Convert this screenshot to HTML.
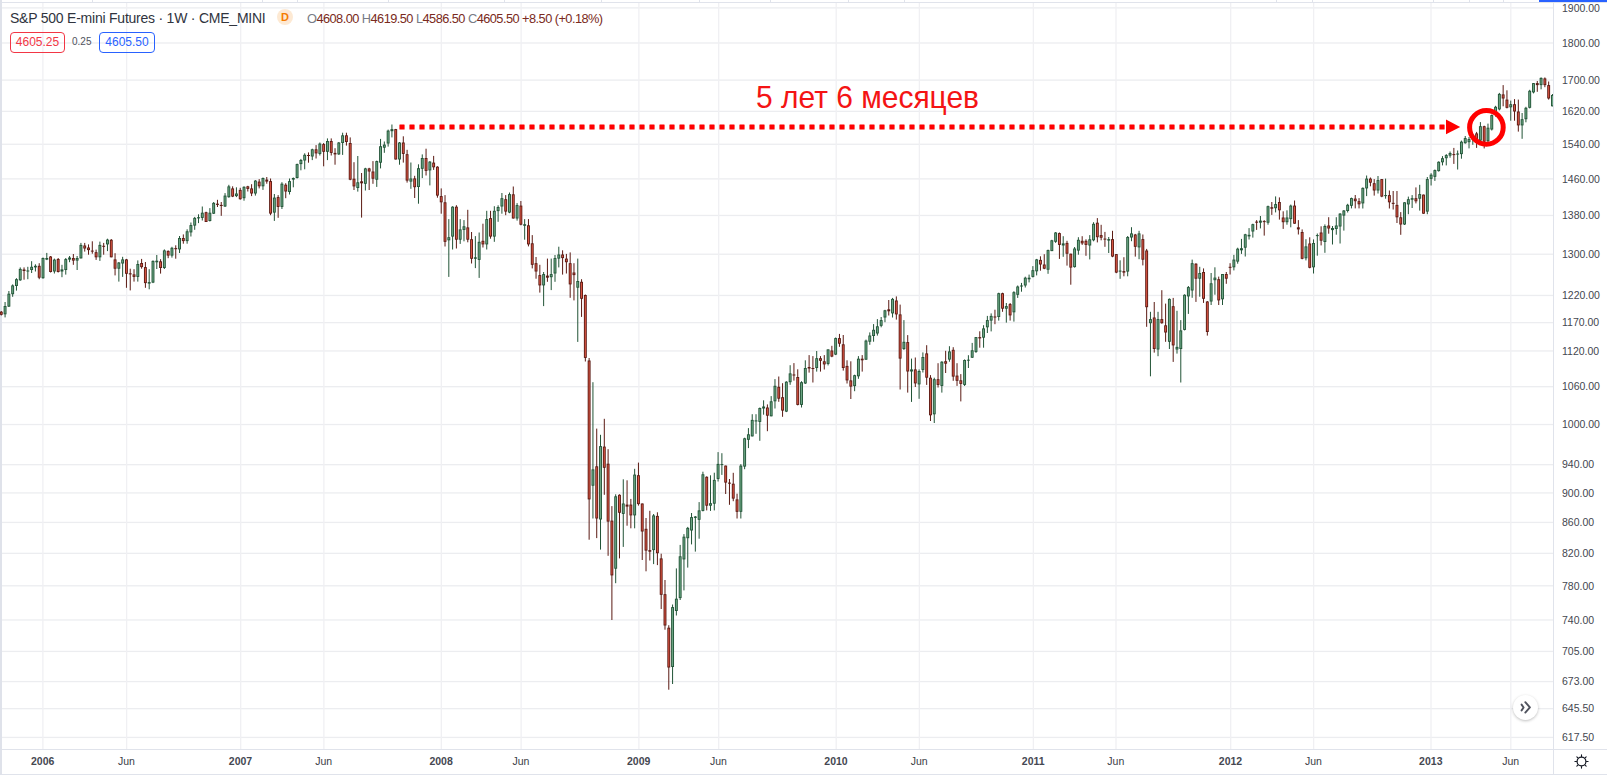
<!DOCTYPE html>
<html><head><meta charset="utf-8">
<style>
html,body{margin:0;padding:0;background:#fff;}
body{width:1607px;height:775px;position:relative;overflow:hidden;font-family:"Liberation Sans",sans-serif;}
.pl{position:absolute;left:1562px;width:40px;height:14px;line-height:14px;font-size:10.5px;color:#44474f;white-space:nowrap;}
.tl{position:absolute;top:754px;width:60px;height:14px;line-height:14px;text-align:center;font-size:10.5px;color:#3a3d45;}
.tl.yr{font-weight:bold;color:#454852;}
.legend{position:absolute;left:10px;top:10px;height:16px;line-height:16px;font-size:14px;letter-spacing:-0.23px;color:#30343e;white-space:nowrap;}
.ohlc{position:absolute;left:307px;top:10px;height:17px;line-height:17px;font-size:12.8px;letter-spacing:-0.55px;color:#7a2a20;white-space:nowrap;}
.ohlc b{font-weight:normal;color:#787b86;}
.box{position:absolute;top:32px;height:19px;line-height:19px;border-radius:4px;font-size:12px;text-align:center;box-sizing:content-box;}
</style></head><body>
<div style="position:absolute;left:0;top:0;width:2px;height:775px;background:#dfe2ea"></div>
<div style="position:absolute;left:2px;top:2px;width:1605px;height:1px;background:#e0e3eb"></div>
<div style="position:absolute;left:92px;top:0;width:1px;height:2px;background:#e0e3eb"></div><div style="position:absolute;left:262px;top:0;width:1px;height:2px;background:#e0e3eb"></div><div style="position:absolute;left:297px;top:0;width:1px;height:2px;background:#e0e3eb"></div><div style="position:absolute;left:388px;top:0;width:1px;height:2px;background:#e0e3eb"></div><div style="position:absolute;left:504px;top:0;width:1px;height:2px;background:#e0e3eb"></div><div style="position:absolute;left:601px;top:0;width:1px;height:2px;background:#e0e3eb"></div><div style="position:absolute;left:699px;top:0;width:1px;height:2px;background:#e0e3eb"></div><div style="position:absolute;left:770px;top:0;width:1px;height:2px;background:#e0e3eb"></div><div style="position:absolute;left:848px;top:0;width:1px;height:2px;background:#e0e3eb"></div><div style="position:absolute;left:904px;top:0;width:1px;height:2px;background:#e0e3eb"></div><div style="position:absolute;left:1276px;top:0;width:1px;height:2px;background:#e0e3eb"></div><div style="position:absolute;left:1312px;top:0;width:1px;height:2px;background:#e0e3eb"></div><div style="position:absolute;left:1433px;top:0;width:1px;height:2px;background:#e0e3eb"></div><div style="position:absolute;left:1469px;top:0;width:1px;height:2px;background:#e0e3eb"></div><div style="position:absolute;left:1503px;top:0;width:1px;height:2px;background:#e0e3eb"></div>
<div style="position:absolute;left:1539px;top:0;width:68px;height:2px;background:#2962ff"></div>
<div style="position:absolute;left:1553px;top:3px;width:1px;height:772px;background:#e0e3eb"></div>
<div style="position:absolute;left:2px;top:749px;width:1605px;height:1px;background:#e0e3eb"></div>
<div style="position:absolute;left:2px;top:774px;width:1605px;height:1px;background:#e0e3eb"></div>
<svg style="position:absolute;left:0;top:0" width="1553" height="749" viewBox="0 0 1553 749">
<rect x="2" y="7.25" width="1551" height="1.3" fill="#ecedf0"/><rect x="2" y="42.34" width="1551" height="1.3" fill="#ecedf0"/><rect x="2" y="79.45" width="1551" height="1.3" fill="#ecedf0"/><rect x="2" y="110.73" width="1551" height="1.3" fill="#ecedf0"/><rect x="2" y="143.61" width="1551" height="1.3" fill="#ecedf0"/><rect x="2" y="178.23" width="1551" height="1.3" fill="#ecedf0"/><rect x="2" y="214.81" width="1551" height="1.3" fill="#ecedf0"/><rect x="2" y="253.58" width="1551" height="1.3" fill="#ecedf0"/><rect x="2" y="294.80" width="1551" height="1.3" fill="#ecedf0"/><rect x="2" y="321.96" width="1551" height="1.3" fill="#ecedf0"/><rect x="2" y="350.31" width="1551" height="1.3" fill="#ecedf0"/><rect x="2" y="386.05" width="1551" height="1.3" fill="#ecedf0"/><rect x="2" y="423.88" width="1551" height="1.3" fill="#ecedf0"/><rect x="2" y="464.04" width="1551" height="1.3" fill="#ecedf0"/><rect x="2" y="492.27" width="1551" height="1.3" fill="#ecedf0"/><rect x="2" y="521.78" width="1551" height="1.3" fill="#ecedf0"/><rect x="2" y="552.69" width="1551" height="1.3" fill="#ecedf0"/><rect x="2" y="585.15" width="1551" height="1.3" fill="#ecedf0"/><rect x="2" y="619.32" width="1551" height="1.3" fill="#ecedf0"/><rect x="2" y="650.77" width="1551" height="1.3" fill="#ecedf0"/><rect x="2" y="680.93" width="1551" height="1.3" fill="#ecedf0"/><rect x="2" y="708.01" width="1551" height="1.3" fill="#ecedf0"/><rect x="2" y="736.79" width="1551" height="1.3" fill="#ecedf0"/><rect x="42.25" y="3" width="1.3" height="746" fill="#f0f0f3"/><rect x="125.95" y="3" width="1.3" height="746" fill="#f0f0f3"/><rect x="240.05" y="3" width="1.3" height="746" fill="#f0f0f3"/><rect x="323.25" y="3" width="1.3" height="746" fill="#f0f0f3"/><rect x="440.65" y="3" width="1.3" height="746" fill="#f0f0f3"/><rect x="520.45" y="3" width="1.3" height="746" fill="#f0f0f3"/><rect x="638.25" y="3" width="1.3" height="746" fill="#f0f0f3"/><rect x="718.05" y="3" width="1.3" height="746" fill="#f0f0f3"/><rect x="835.55" y="3" width="1.3" height="746" fill="#f0f0f3"/><rect x="918.75" y="3" width="1.3" height="746" fill="#f0f0f3"/><rect x="1032.75" y="3" width="1.3" height="746" fill="#f0f0f3"/><rect x="1115.35" y="3" width="1.3" height="746" fill="#f0f0f3"/><rect x="1230.05" y="3" width="1.3" height="746" fill="#f0f0f3"/><rect x="1312.95" y="3" width="1.3" height="746" fill="#f0f0f3"/><rect x="1430.35" y="3" width="1.3" height="746" fill="#f0f0f3"/><rect x="1510.15" y="3" width="1.3" height="746" fill="#f0f0f3"/>
<rect x="0.78" y="311.00" width="1" height="4.50" fill="#5b1a13"/><rect x="-0.17" y="311.70" width="2.9" height="3.10" fill="#5b1a13"/><rect x="0.73" y="312.60" width="1.1" height="1.30" fill="#d75442"/><rect x="4.57" y="302.00" width="1" height="15.40" fill="#225437"/><rect x="3.62" y="306.00" width="2.9" height="8.30" fill="#225437"/><rect x="4.52" y="306.90" width="1.1" height="6.50" fill="#6ba583"/><rect x="8.37" y="291.00" width="1" height="16.00" fill="#225437"/><rect x="7.42" y="293.70" width="2.9" height="12.90" fill="#225437"/><rect x="8.32" y="294.60" width="1.1" height="11.10" fill="#6ba583"/><rect x="12.16" y="284.40" width="1" height="12.40" fill="#225437"/><rect x="11.21" y="285.40" width="2.9" height="8.80" fill="#225437"/><rect x="12.11" y="286.30" width="1.1" height="7.00" fill="#6ba583"/><rect x="15.95" y="278.20" width="1" height="12.40" fill="#225437"/><rect x="15.00" y="279.20" width="2.9" height="6.80" fill="#225437"/><rect x="15.90" y="280.10" width="1.1" height="5.00" fill="#6ba583"/><rect x="19.74" y="267.40" width="1" height="13.40" fill="#225437"/><rect x="18.79" y="268.90" width="2.9" height="11.40" fill="#225437"/><rect x="19.69" y="269.80" width="1.1" height="9.60" fill="#6ba583"/><rect x="23.54" y="267.40" width="1" height="12.30" fill="#5b1a13"/><rect x="22.59" y="269.50" width="2.9" height="1.50" fill="#5b1a13"/><rect x="27.33" y="266.80" width="1" height="12.40" fill="#225437"/><rect x="26.38" y="270.50" width="2.9" height="1.00" fill="#225437"/><rect x="31.12" y="261.20" width="1" height="11.80" fill="#225437"/><rect x="30.17" y="266.80" width="2.9" height="3.20" fill="#225437"/><rect x="31.07" y="267.70" width="1.1" height="1.40" fill="#6ba583"/><rect x="34.91" y="264.30" width="1" height="7.20" fill="#225437"/><rect x="33.96" y="265.80" width="2.9" height="1.60" fill="#225437"/><rect x="38.71" y="263.20" width="1" height="16.00" fill="#5b1a13"/><rect x="37.76" y="265.80" width="2.9" height="11.90" fill="#5b1a13"/><rect x="38.66" y="266.70" width="1.1" height="10.10" fill="#d75442"/><rect x="42.50" y="257.50" width="1" height="21.20" fill="#225437"/><rect x="41.55" y="258.00" width="2.9" height="20.20" fill="#225437"/><rect x="42.45" y="258.90" width="1.1" height="18.40" fill="#6ba583"/><rect x="46.29" y="252.90" width="1" height="7.20" fill="#225437"/><rect x="45.34" y="258.00" width="2.9" height="1.60" fill="#225437"/><rect x="50.09" y="256.00" width="1" height="16.50" fill="#5b1a13"/><rect x="49.14" y="256.50" width="2.9" height="15.50" fill="#5b1a13"/><rect x="50.04" y="257.40" width="1.1" height="13.70" fill="#d75442"/><rect x="53.88" y="258.60" width="1" height="14.90" fill="#225437"/><rect x="52.93" y="259.60" width="2.9" height="11.90" fill="#225437"/><rect x="53.83" y="260.50" width="1.1" height="10.10" fill="#6ba583"/><rect x="57.67" y="258.00" width="1" height="14.50" fill="#5b1a13"/><rect x="56.72" y="259.00" width="2.9" height="13.00" fill="#5b1a13"/><rect x="57.62" y="259.90" width="1.1" height="11.20" fill="#d75442"/><rect x="61.46" y="264.80" width="1" height="12.40" fill="#225437"/><rect x="60.51" y="269.40" width="2.9" height="2.10" fill="#225437"/><rect x="65.26" y="258.00" width="1" height="16.60" fill="#225437"/><rect x="64.31" y="259.10" width="2.9" height="10.90" fill="#225437"/><rect x="65.21" y="260.00" width="1.1" height="9.10" fill="#6ba583"/><rect x="69.05" y="256.00" width="1" height="6.20" fill="#225437"/><rect x="68.10" y="257.50" width="2.9" height="2.10" fill="#225437"/><rect x="72.84" y="254.00" width="1" height="10.80" fill="#5b1a13"/><rect x="71.89" y="258.00" width="2.9" height="2.60" fill="#5b1a13"/><rect x="72.79" y="258.90" width="1.1" height="0.80" fill="#d75442"/><rect x="76.63" y="256.00" width="1" height="14.00" fill="#225437"/><rect x="75.68" y="258.00" width="2.9" height="2.60" fill="#225437"/><rect x="76.58" y="258.90" width="1.1" height="0.80" fill="#6ba583"/><rect x="80.43" y="242.90" width="1" height="15.50" fill="#225437"/><rect x="79.48" y="244.90" width="2.9" height="13.50" fill="#225437"/><rect x="80.38" y="245.80" width="1.1" height="11.70" fill="#6ba583"/><rect x="84.22" y="242.90" width="1" height="8.70" fill="#5b1a13"/><rect x="83.27" y="245.50" width="2.9" height="3.00" fill="#5b1a13"/><rect x="84.17" y="246.40" width="1.1" height="1.20" fill="#d75442"/><rect x="88.01" y="244.40" width="1" height="10.30" fill="#5b1a13"/><rect x="87.06" y="247.50" width="2.9" height="2.60" fill="#5b1a13"/><rect x="87.96" y="248.40" width="1.1" height="0.80" fill="#d75442"/><rect x="91.80" y="241.30" width="1" height="12.40" fill="#5b1a13"/><rect x="90.85" y="250.60" width="2.9" height="1.00" fill="#5b1a13"/><rect x="95.60" y="249.60" width="1" height="10.30" fill="#5b1a13"/><rect x="94.65" y="252.20" width="2.9" height="5.10" fill="#5b1a13"/><rect x="95.55" y="253.10" width="1.1" height="3.30" fill="#d75442"/><rect x="99.39" y="241.60" width="1" height="19.30" fill="#225437"/><rect x="98.44" y="244.90" width="2.9" height="12.40" fill="#225437"/><rect x="99.34" y="245.80" width="1.1" height="10.60" fill="#6ba583"/><rect x="103.18" y="242.90" width="1" height="11.80" fill="#5b1a13"/><rect x="102.23" y="245.80" width="2.9" height="1.00" fill="#5b1a13"/><rect x="106.97" y="238.70" width="1" height="12.40" fill="#225437"/><rect x="106.02" y="239.60" width="2.9" height="4.80" fill="#225437"/><rect x="106.92" y="240.50" width="1.1" height="3.00" fill="#6ba583"/><rect x="110.77" y="239.00" width="1" height="18.30" fill="#5b1a13"/><rect x="109.82" y="239.80" width="2.9" height="17.50" fill="#5b1a13"/><rect x="110.72" y="240.70" width="1.1" height="15.70" fill="#d75442"/><rect x="114.56" y="253.20" width="1" height="22.20" fill="#5b1a13"/><rect x="113.61" y="259.40" width="2.9" height="9.30" fill="#5b1a13"/><rect x="114.51" y="260.30" width="1.1" height="7.50" fill="#d75442"/><rect x="118.35" y="262.00" width="1" height="19.60" fill="#225437"/><rect x="117.40" y="262.50" width="2.9" height="6.20" fill="#225437"/><rect x="118.30" y="263.40" width="1.1" height="4.40" fill="#6ba583"/><rect x="122.14" y="256.80" width="1" height="20.10" fill="#225437"/><rect x="121.19" y="259.40" width="2.9" height="4.10" fill="#225437"/><rect x="122.09" y="260.30" width="1.1" height="2.30" fill="#6ba583"/><rect x="125.94" y="258.90" width="1" height="28.90" fill="#5b1a13"/><rect x="124.99" y="259.40" width="2.9" height="14.40" fill="#5b1a13"/><rect x="125.89" y="260.30" width="1.1" height="12.60" fill="#d75442"/><rect x="129.73" y="268.70" width="1" height="21.70" fill="#5b1a13"/><rect x="128.78" y="273.30" width="2.9" height="1.10" fill="#5b1a13"/><rect x="133.52" y="269.20" width="1" height="12.40" fill="#5b1a13"/><rect x="132.57" y="274.40" width="2.9" height="2.50" fill="#5b1a13"/><rect x="133.47" y="275.30" width="1.1" height="0.70" fill="#d75442"/><rect x="137.31" y="260.40" width="1" height="21.20" fill="#225437"/><rect x="136.37" y="264.00" width="2.9" height="12.90" fill="#225437"/><rect x="137.26" y="264.90" width="1.1" height="11.10" fill="#6ba583"/><rect x="141.11" y="258.90" width="1" height="9.80" fill="#5b1a13"/><rect x="140.16" y="263.00" width="2.9" height="4.10" fill="#5b1a13"/><rect x="141.06" y="263.90" width="1.1" height="2.30" fill="#d75442"/><rect x="144.90" y="262.00" width="1" height="25.80" fill="#5b1a13"/><rect x="143.95" y="267.10" width="2.9" height="16.00" fill="#5b1a13"/><rect x="144.85" y="268.00" width="1.1" height="14.20" fill="#d75442"/><rect x="148.69" y="269.20" width="1" height="20.10" fill="#225437"/><rect x="147.74" y="282.10" width="2.9" height="1.50" fill="#225437"/><rect x="152.49" y="260.40" width="1" height="22.70" fill="#225437"/><rect x="151.54" y="260.90" width="2.9" height="21.70" fill="#225437"/><rect x="152.44" y="261.80" width="1.1" height="19.90" fill="#6ba583"/><rect x="156.28" y="255.00" width="1" height="14.00" fill="#225437"/><rect x="155.33" y="260.70" width="2.9" height="1.60" fill="#225437"/><rect x="160.07" y="259.20" width="1" height="14.40" fill="#5b1a13"/><rect x="159.12" y="261.30" width="2.9" height="6.70" fill="#5b1a13"/><rect x="160.02" y="262.20" width="1.1" height="4.90" fill="#d75442"/><rect x="163.86" y="249.40" width="1" height="19.60" fill="#225437"/><rect x="162.91" y="250.40" width="2.9" height="17.60" fill="#225437"/><rect x="163.81" y="251.30" width="1.1" height="15.80" fill="#6ba583"/><rect x="167.66" y="250.40" width="1" height="7.80" fill="#5b1a13"/><rect x="166.71" y="250.90" width="2.9" height="4.70" fill="#5b1a13"/><rect x="167.61" y="251.80" width="1.1" height="2.90" fill="#d75442"/><rect x="171.45" y="246.80" width="1" height="10.80" fill="#225437"/><rect x="170.50" y="247.80" width="2.9" height="7.80" fill="#225437"/><rect x="171.40" y="248.70" width="1.1" height="6.00" fill="#6ba583"/><rect x="175.24" y="245.30" width="1" height="13.40" fill="#5b1a13"/><rect x="174.29" y="248.10" width="2.9" height="1.10" fill="#5b1a13"/><rect x="179.03" y="236.00" width="1" height="17.00" fill="#225437"/><rect x="178.08" y="238.00" width="2.9" height="11.40" fill="#225437"/><rect x="178.98" y="238.90" width="1.1" height="9.60" fill="#6ba583"/><rect x="182.83" y="234.40" width="1" height="9.30" fill="#5b1a13"/><rect x="181.88" y="238.00" width="2.9" height="3.10" fill="#5b1a13"/><rect x="182.78" y="238.90" width="1.1" height="1.30" fill="#d75442"/><rect x="186.62" y="229.30" width="1" height="14.40" fill="#225437"/><rect x="185.67" y="231.30" width="2.9" height="9.80" fill="#225437"/><rect x="186.57" y="232.20" width="1.1" height="8.00" fill="#6ba583"/><rect x="190.41" y="222.50" width="1" height="14.00" fill="#225437"/><rect x="189.46" y="225.10" width="2.9" height="7.30" fill="#225437"/><rect x="190.36" y="226.00" width="1.1" height="5.50" fill="#6ba583"/><rect x="194.20" y="216.90" width="1" height="12.90" fill="#225437"/><rect x="193.25" y="217.90" width="2.9" height="7.70" fill="#225437"/><rect x="194.15" y="218.80" width="1.1" height="5.90" fill="#6ba583"/><rect x="198.00" y="214.30" width="1" height="8.80" fill="#225437"/><rect x="197.05" y="217.20" width="2.9" height="1.20" fill="#225437"/><rect x="201.79" y="206.50" width="1" height="14.00" fill="#225437"/><rect x="200.84" y="212.70" width="2.9" height="5.20" fill="#225437"/><rect x="201.74" y="213.60" width="1.1" height="3.40" fill="#6ba583"/><rect x="205.58" y="211.70" width="1" height="10.30" fill="#5b1a13"/><rect x="204.63" y="212.20" width="2.9" height="9.80" fill="#5b1a13"/><rect x="205.53" y="213.10" width="1.1" height="8.00" fill="#d75442"/><rect x="209.37" y="208.10" width="1" height="13.40" fill="#225437"/><rect x="208.42" y="212.70" width="2.9" height="8.30" fill="#225437"/><rect x="209.32" y="213.60" width="1.1" height="6.50" fill="#6ba583"/><rect x="213.17" y="202.00" width="1" height="12.00" fill="#225437"/><rect x="212.22" y="202.90" width="2.9" height="10.80" fill="#225437"/><rect x="213.12" y="203.80" width="1.1" height="9.00" fill="#6ba583"/><rect x="216.96" y="199.80" width="1" height="7.20" fill="#5b1a13"/><rect x="216.01" y="203.70" width="2.9" height="1.20" fill="#5b1a13"/><rect x="220.75" y="202.00" width="1" height="13.80" fill="#5b1a13"/><rect x="219.80" y="204.90" width="2.9" height="1.10" fill="#5b1a13"/><rect x="224.54" y="193.10" width="1" height="13.90" fill="#225437"/><rect x="223.59" y="195.60" width="2.9" height="10.90" fill="#225437"/><rect x="224.49" y="196.50" width="1.1" height="9.10" fill="#6ba583"/><rect x="228.34" y="184.80" width="1" height="12.90" fill="#225437"/><rect x="227.39" y="186.40" width="2.9" height="10.80" fill="#225437"/><rect x="228.29" y="187.30" width="1.1" height="9.00" fill="#6ba583"/><rect x="232.13" y="186.30" width="1" height="10.80" fill="#5b1a13"/><rect x="231.18" y="188.40" width="2.9" height="8.20" fill="#5b1a13"/><rect x="232.08" y="189.30" width="1.1" height="6.40" fill="#d75442"/><rect x="235.92" y="187.30" width="1" height="9.80" fill="#225437"/><rect x="234.97" y="193.50" width="2.9" height="2.60" fill="#225437"/><rect x="235.87" y="194.40" width="1.1" height="0.80" fill="#6ba583"/><rect x="239.72" y="187.80" width="1" height="11.90" fill="#5b1a13"/><rect x="238.77" y="189.90" width="2.9" height="9.30" fill="#5b1a13"/><rect x="239.67" y="190.80" width="1.1" height="7.50" fill="#d75442"/><rect x="243.51" y="186.30" width="1" height="14.40" fill="#225437"/><rect x="242.56" y="186.80" width="2.9" height="11.40" fill="#225437"/><rect x="243.46" y="187.70" width="1.1" height="9.60" fill="#6ba583"/><rect x="247.30" y="185.80" width="1" height="5.70" fill="#5b1a13"/><rect x="246.35" y="186.30" width="2.9" height="2.60" fill="#5b1a13"/><rect x="247.25" y="187.20" width="1.1" height="0.80" fill="#d75442"/><rect x="251.09" y="184.20" width="1" height="11.90" fill="#5b1a13"/><rect x="250.14" y="188.40" width="2.9" height="5.10" fill="#5b1a13"/><rect x="251.04" y="189.30" width="1.1" height="3.30" fill="#d75442"/><rect x="254.89" y="180.10" width="1" height="15.50" fill="#225437"/><rect x="253.94" y="180.60" width="2.9" height="12.90" fill="#225437"/><rect x="254.84" y="181.50" width="1.1" height="11.10" fill="#6ba583"/><rect x="258.68" y="179.10" width="1" height="9.30" fill="#5b1a13"/><rect x="257.73" y="181.60" width="2.9" height="4.70" fill="#5b1a13"/><rect x="258.63" y="182.50" width="1.1" height="2.90" fill="#d75442"/><rect x="262.47" y="177.50" width="1" height="12.40" fill="#225437"/><rect x="261.52" y="178.00" width="2.9" height="8.30" fill="#225437"/><rect x="262.42" y="178.90" width="1.1" height="6.50" fill="#6ba583"/><rect x="266.26" y="177.00" width="1" height="6.70" fill="#5b1a13"/><rect x="265.31" y="179.60" width="2.9" height="2.00" fill="#5b1a13"/><rect x="270.06" y="178.50" width="1" height="36.70" fill="#5b1a13"/><rect x="269.11" y="181.10" width="2.9" height="32.50" fill="#5b1a13"/><rect x="270.01" y="182.00" width="1.1" height="30.70" fill="#d75442"/><rect x="273.85" y="194.00" width="1" height="26.90" fill="#225437"/><rect x="272.90" y="197.60" width="2.9" height="15.00" fill="#225437"/><rect x="273.80" y="198.50" width="1.1" height="13.20" fill="#6ba583"/><rect x="277.64" y="195.10" width="1" height="22.70" fill="#5b1a13"/><rect x="276.69" y="197.10" width="2.9" height="9.80" fill="#5b1a13"/><rect x="277.59" y="198.00" width="1.1" height="8.00" fill="#d75442"/><rect x="281.43" y="182.20" width="1" height="26.80" fill="#225437"/><rect x="280.48" y="183.70" width="2.9" height="23.20" fill="#225437"/><rect x="281.38" y="184.60" width="1.1" height="21.40" fill="#6ba583"/><rect x="285.23" y="183.20" width="1" height="15.00" fill="#5b1a13"/><rect x="284.28" y="184.70" width="2.9" height="6.80" fill="#5b1a13"/><rect x="285.18" y="185.60" width="1.1" height="5.00" fill="#d75442"/><rect x="289.02" y="178.50" width="1" height="16.00" fill="#225437"/><rect x="288.07" y="181.10" width="2.9" height="10.90" fill="#225437"/><rect x="288.97" y="182.00" width="1.1" height="9.10" fill="#6ba583"/><rect x="292.81" y="177.50" width="1" height="9.80" fill="#225437"/><rect x="291.86" y="178.00" width="2.9" height="1.60" fill="#225437"/><rect x="296.60" y="163.60" width="1" height="14.90" fill="#225437"/><rect x="295.65" y="164.10" width="2.9" height="13.90" fill="#225437"/><rect x="296.55" y="165.00" width="1.1" height="12.10" fill="#6ba583"/><rect x="300.40" y="158.90" width="1" height="11.40" fill="#225437"/><rect x="299.45" y="160.00" width="2.9" height="4.10" fill="#225437"/><rect x="300.35" y="160.90" width="1.1" height="2.30" fill="#6ba583"/><rect x="304.19" y="153.30" width="1" height="16.00" fill="#225437"/><rect x="303.24" y="154.80" width="2.9" height="5.70" fill="#225437"/><rect x="304.14" y="155.70" width="1.1" height="3.90" fill="#6ba583"/><rect x="307.98" y="152.40" width="1" height="10.30" fill="#5b1a13"/><rect x="307.03" y="155.00" width="2.9" height="1.00" fill="#5b1a13"/><rect x="311.77" y="148.70" width="1" height="11.40" fill="#225437"/><rect x="310.82" y="149.30" width="2.9" height="7.20" fill="#225437"/><rect x="311.72" y="150.20" width="1.1" height="5.40" fill="#6ba583"/><rect x="315.57" y="145.10" width="1" height="13.40" fill="#5b1a13"/><rect x="314.62" y="149.30" width="2.9" height="4.10" fill="#5b1a13"/><rect x="315.52" y="150.20" width="1.1" height="2.30" fill="#d75442"/><rect x="319.36" y="142.50" width="1" height="13.00" fill="#225437"/><rect x="318.41" y="143.60" width="2.9" height="10.30" fill="#225437"/><rect x="319.31" y="144.50" width="1.1" height="8.50" fill="#6ba583"/><rect x="323.15" y="143.00" width="1" height="23.30" fill="#5b1a13"/><rect x="322.20" y="144.10" width="2.9" height="7.70" fill="#5b1a13"/><rect x="323.10" y="145.00" width="1.1" height="5.90" fill="#d75442"/><rect x="326.94" y="138.40" width="1" height="21.70" fill="#225437"/><rect x="326.00" y="141.00" width="2.9" height="10.80" fill="#225437"/><rect x="326.89" y="141.90" width="1.1" height="9.00" fill="#6ba583"/><rect x="330.74" y="138.40" width="1" height="17.10" fill="#5b1a13"/><rect x="329.79" y="141.00" width="2.9" height="11.90" fill="#5b1a13"/><rect x="330.69" y="141.90" width="1.1" height="10.10" fill="#d75442"/><rect x="334.53" y="148.20" width="1" height="16.50" fill="#5b1a13"/><rect x="333.58" y="152.90" width="2.9" height="1.50" fill="#5b1a13"/><rect x="338.32" y="142.00" width="1" height="12.90" fill="#225437"/><rect x="337.37" y="142.50" width="2.9" height="11.90" fill="#225437"/><rect x="338.27" y="143.40" width="1.1" height="10.10" fill="#6ba583"/><rect x="342.12" y="132.70" width="1" height="22.20" fill="#225437"/><rect x="341.17" y="135.30" width="2.9" height="7.70" fill="#225437"/><rect x="342.07" y="136.20" width="1.1" height="5.90" fill="#6ba583"/><rect x="345.91" y="132.70" width="1" height="12.90" fill="#5b1a13"/><rect x="344.96" y="135.30" width="2.9" height="6.70" fill="#5b1a13"/><rect x="345.86" y="136.20" width="1.1" height="4.90" fill="#d75442"/><rect x="349.70" y="137.40" width="1" height="42.80" fill="#5b1a13"/><rect x="348.75" y="143.00" width="2.9" height="36.70" fill="#5b1a13"/><rect x="349.65" y="143.90" width="1.1" height="34.90" fill="#d75442"/><rect x="353.49" y="162.20" width="1" height="27.80" fill="#5b1a13"/><rect x="352.54" y="178.70" width="2.9" height="7.70" fill="#5b1a13"/><rect x="353.44" y="179.60" width="1.1" height="5.90" fill="#d75442"/><rect x="357.29" y="156.00" width="1" height="35.60" fill="#225437"/><rect x="356.34" y="182.30" width="2.9" height="5.70" fill="#225437"/><rect x="357.24" y="183.20" width="1.1" height="3.90" fill="#6ba583"/><rect x="361.08" y="173.00" width="1" height="44.60" fill="#5b1a13"/><rect x="360.13" y="181.30" width="2.9" height="2.00" fill="#5b1a13"/><rect x="364.87" y="167.80" width="1" height="22.70" fill="#225437"/><rect x="363.92" y="168.40" width="2.9" height="15.40" fill="#225437"/><rect x="364.82" y="169.30" width="1.1" height="13.60" fill="#6ba583"/><rect x="368.66" y="167.80" width="1" height="22.20" fill="#5b1a13"/><rect x="367.71" y="168.40" width="2.9" height="3.10" fill="#5b1a13"/><rect x="368.61" y="169.30" width="1.1" height="1.30" fill="#d75442"/><rect x="372.46" y="161.10" width="1" height="22.70" fill="#5b1a13"/><rect x="371.51" y="171.50" width="2.9" height="7.20" fill="#5b1a13"/><rect x="372.41" y="172.40" width="1.1" height="5.40" fill="#d75442"/><rect x="376.25" y="160.60" width="1" height="26.30" fill="#225437"/><rect x="375.30" y="161.10" width="2.9" height="18.60" fill="#225437"/><rect x="376.20" y="162.00" width="1.1" height="16.80" fill="#6ba583"/><rect x="380.04" y="138.90" width="1" height="29.50" fill="#225437"/><rect x="379.09" y="146.20" width="2.9" height="16.50" fill="#225437"/><rect x="379.99" y="147.10" width="1.1" height="14.70" fill="#6ba583"/><rect x="383.83" y="141.50" width="1" height="11.30" fill="#225437"/><rect x="382.88" y="144.60" width="2.9" height="3.10" fill="#225437"/><rect x="383.78" y="145.50" width="1.1" height="1.30" fill="#6ba583"/><rect x="387.63" y="129.60" width="1" height="17.00" fill="#225437"/><rect x="386.68" y="130.60" width="2.9" height="12.90" fill="#225437"/><rect x="387.58" y="131.50" width="1.1" height="11.10" fill="#6ba583"/><rect x="391.42" y="124.50" width="1" height="12.90" fill="#225437"/><rect x="390.47" y="129.10" width="2.9" height="2.10" fill="#225437"/><rect x="395.21" y="128.90" width="1" height="30.60" fill="#5b1a13"/><rect x="394.26" y="129.10" width="2.9" height="30.40" fill="#5b1a13"/><rect x="395.16" y="130.00" width="1.1" height="28.60" fill="#d75442"/><rect x="399.00" y="142.00" width="1" height="22.70" fill="#225437"/><rect x="398.05" y="142.50" width="2.9" height="17.00" fill="#225437"/><rect x="398.95" y="143.40" width="1.1" height="15.20" fill="#6ba583"/><rect x="402.80" y="136.30" width="1" height="26.30" fill="#5b1a13"/><rect x="401.85" y="142.50" width="2.9" height="11.40" fill="#5b1a13"/><rect x="402.75" y="143.40" width="1.1" height="9.60" fill="#d75442"/><rect x="406.59" y="149.80" width="1" height="32.80" fill="#5b1a13"/><rect x="405.64" y="154.20" width="2.9" height="26.40" fill="#5b1a13"/><rect x="406.54" y="155.10" width="1.1" height="24.60" fill="#d75442"/><rect x="410.38" y="162.50" width="1" height="26.30" fill="#225437"/><rect x="409.43" y="178.50" width="2.9" height="3.10" fill="#225437"/><rect x="410.33" y="179.40" width="1.1" height="1.30" fill="#6ba583"/><rect x="414.17" y="175.80" width="1" height="22.20" fill="#5b1a13"/><rect x="413.22" y="178.40" width="2.9" height="8.80" fill="#5b1a13"/><rect x="414.12" y="179.30" width="1.1" height="7.00" fill="#d75442"/><rect x="417.97" y="164.30" width="1" height="39.40" fill="#225437"/><rect x="417.02" y="168.20" width="2.9" height="18.80" fill="#225437"/><rect x="417.92" y="169.10" width="1.1" height="17.00" fill="#6ba583"/><rect x="421.76" y="154.40" width="1" height="23.70" fill="#225437"/><rect x="420.81" y="158.00" width="2.9" height="10.80" fill="#225437"/><rect x="421.71" y="158.90" width="1.1" height="9.00" fill="#6ba583"/><rect x="425.55" y="148.70" width="1" height="26.80" fill="#5b1a13"/><rect x="424.60" y="158.00" width="2.9" height="12.90" fill="#5b1a13"/><rect x="425.50" y="158.90" width="1.1" height="11.10" fill="#d75442"/><rect x="429.35" y="161.10" width="1" height="24.30" fill="#225437"/><rect x="428.40" y="161.60" width="2.9" height="8.80" fill="#225437"/><rect x="429.30" y="162.50" width="1.1" height="7.00" fill="#6ba583"/><rect x="433.14" y="155.90" width="1" height="14.00" fill="#5b1a13"/><rect x="432.19" y="162.60" width="2.9" height="4.70" fill="#5b1a13"/><rect x="433.09" y="163.50" width="1.1" height="2.90" fill="#d75442"/><rect x="436.93" y="166.20" width="1" height="31.50" fill="#5b1a13"/><rect x="435.98" y="166.70" width="2.9" height="28.90" fill="#5b1a13"/><rect x="436.88" y="167.60" width="1.1" height="27.10" fill="#d75442"/><rect x="440.72" y="188.40" width="1" height="25.30" fill="#5b1a13"/><rect x="439.77" y="196.10" width="2.9" height="6.20" fill="#5b1a13"/><rect x="440.67" y="197.00" width="1.1" height="4.40" fill="#d75442"/><rect x="444.52" y="195.10" width="1" height="51.40" fill="#5b1a13"/><rect x="443.57" y="202.30" width="2.9" height="39.50" fill="#5b1a13"/><rect x="444.47" y="203.20" width="1.1" height="37.70" fill="#d75442"/><rect x="448.31" y="219.10" width="1" height="57.80" fill="#225437"/><rect x="447.36" y="237.20" width="2.9" height="3.10" fill="#225437"/><rect x="448.26" y="238.10" width="1.1" height="1.30" fill="#6ba583"/><rect x="452.10" y="206.20" width="1" height="43.30" fill="#225437"/><rect x="451.15" y="206.70" width="2.9" height="29.90" fill="#225437"/><rect x="452.05" y="207.60" width="1.1" height="28.10" fill="#6ba583"/><rect x="455.89" y="205.20" width="1" height="43.30" fill="#5b1a13"/><rect x="454.94" y="206.70" width="2.9" height="33.00" fill="#5b1a13"/><rect x="455.84" y="207.60" width="1.1" height="31.20" fill="#d75442"/><rect x="459.69" y="219.10" width="1" height="24.80" fill="#225437"/><rect x="458.74" y="229.40" width="2.9" height="10.30" fill="#225437"/><rect x="459.64" y="230.30" width="1.1" height="8.50" fill="#6ba583"/><rect x="463.48" y="220.10" width="1" height="21.20" fill="#225437"/><rect x="462.53" y="226.30" width="2.9" height="3.60" fill="#225437"/><rect x="463.43" y="227.20" width="1.1" height="1.80" fill="#6ba583"/><rect x="467.27" y="209.80" width="1" height="32.50" fill="#5b1a13"/><rect x="466.32" y="227.40" width="2.9" height="12.30" fill="#5b1a13"/><rect x="467.22" y="228.30" width="1.1" height="10.50" fill="#d75442"/><rect x="471.06" y="232.00" width="1" height="31.50" fill="#5b1a13"/><rect x="470.11" y="239.20" width="2.9" height="19.60" fill="#5b1a13"/><rect x="471.01" y="240.10" width="1.1" height="17.80" fill="#d75442"/><rect x="474.86" y="236.10" width="1" height="32.00" fill="#225437"/><rect x="473.91" y="257.30" width="2.9" height="1.50" fill="#225437"/><rect x="478.65" y="232.50" width="1" height="45.40" fill="#225437"/><rect x="477.70" y="241.80" width="2.9" height="18.10" fill="#225437"/><rect x="478.60" y="242.70" width="1.1" height="16.30" fill="#6ba583"/><rect x="482.44" y="223.70" width="1" height="23.80" fill="#5b1a13"/><rect x="481.49" y="240.80" width="2.9" height="3.60" fill="#5b1a13"/><rect x="482.39" y="241.70" width="1.1" height="1.80" fill="#d75442"/><rect x="486.23" y="210.80" width="1" height="38.70" fill="#225437"/><rect x="485.28" y="219.10" width="2.9" height="25.30" fill="#225437"/><rect x="486.18" y="220.00" width="1.1" height="23.50" fill="#6ba583"/><rect x="490.03" y="210.80" width="1" height="27.90" fill="#5b1a13"/><rect x="489.08" y="218.10" width="2.9" height="18.50" fill="#5b1a13"/><rect x="489.98" y="219.00" width="1.1" height="16.70" fill="#d75442"/><rect x="493.82" y="206.20" width="1" height="35.60" fill="#225437"/><rect x="492.87" y="210.80" width="2.9" height="25.80" fill="#225437"/><rect x="493.77" y="211.70" width="1.1" height="24.00" fill="#6ba583"/><rect x="497.61" y="205.30" width="1" height="16.50" fill="#225437"/><rect x="496.66" y="207.00" width="2.9" height="4.10" fill="#225437"/><rect x="497.56" y="207.90" width="1.1" height="2.30" fill="#6ba583"/><rect x="501.40" y="193.00" width="1" height="20.70" fill="#225437"/><rect x="500.45" y="198.20" width="2.9" height="8.30" fill="#225437"/><rect x="501.35" y="199.10" width="1.1" height="6.50" fill="#6ba583"/><rect x="505.20" y="195.10" width="1" height="20.10" fill="#5b1a13"/><rect x="504.25" y="199.20" width="2.9" height="12.40" fill="#5b1a13"/><rect x="505.15" y="200.10" width="1.1" height="10.60" fill="#d75442"/><rect x="508.99" y="192.50" width="1" height="20.70" fill="#225437"/><rect x="508.04" y="194.10" width="2.9" height="18.50" fill="#225437"/><rect x="508.94" y="195.00" width="1.1" height="16.70" fill="#6ba583"/><rect x="512.78" y="186.50" width="1" height="32.00" fill="#5b1a13"/><rect x="511.83" y="194.30" width="2.9" height="24.20" fill="#5b1a13"/><rect x="512.73" y="195.20" width="1.1" height="22.40" fill="#d75442"/><rect x="516.58" y="203.10" width="1" height="17.50" fill="#225437"/><rect x="515.62" y="205.10" width="2.9" height="13.40" fill="#225437"/><rect x="516.53" y="206.00" width="1.1" height="11.60" fill="#6ba583"/><rect x="520.37" y="201.00" width="1" height="24.30" fill="#5b1a13"/><rect x="519.42" y="205.60" width="2.9" height="19.10" fill="#5b1a13"/><rect x="520.32" y="206.50" width="1.1" height="17.30" fill="#d75442"/><rect x="524.16" y="219.10" width="1" height="20.60" fill="#225437"/><rect x="523.21" y="224.20" width="2.9" height="1.60" fill="#225437"/><rect x="527.95" y="219.10" width="1" height="27.30" fill="#5b1a13"/><rect x="527.00" y="225.30" width="2.9" height="19.10" fill="#5b1a13"/><rect x="527.90" y="226.20" width="1.1" height="17.30" fill="#d75442"/><rect x="531.75" y="235.10" width="1" height="33.30" fill="#5b1a13"/><rect x="530.80" y="243.30" width="2.9" height="21.50" fill="#5b1a13"/><rect x="531.70" y="244.20" width="1.1" height="19.70" fill="#d75442"/><rect x="535.54" y="257.00" width="1" height="21.70" fill="#5b1a13"/><rect x="534.59" y="263.20" width="2.9" height="8.30" fill="#5b1a13"/><rect x="535.49" y="264.10" width="1.1" height="6.50" fill="#d75442"/><rect x="539.33" y="264.80" width="1" height="27.80" fill="#5b1a13"/><rect x="538.38" y="275.10" width="2.9" height="10.30" fill="#5b1a13"/><rect x="539.28" y="276.00" width="1.1" height="8.50" fill="#d75442"/><rect x="543.12" y="272.00" width="1" height="34.10" fill="#225437"/><rect x="542.17" y="274.10" width="2.9" height="11.30" fill="#225437"/><rect x="543.07" y="275.00" width="1.1" height="9.50" fill="#6ba583"/><rect x="546.92" y="258.60" width="1" height="23.20" fill="#5b1a13"/><rect x="545.97" y="275.60" width="2.9" height="2.10" fill="#5b1a13"/><rect x="550.71" y="258.60" width="1" height="31.50" fill="#225437"/><rect x="549.76" y="274.10" width="2.9" height="3.10" fill="#225437"/><rect x="550.66" y="275.00" width="1.1" height="1.30" fill="#6ba583"/><rect x="554.50" y="255.00" width="1" height="26.80" fill="#225437"/><rect x="553.55" y="258.10" width="2.9" height="15.40" fill="#225437"/><rect x="554.45" y="259.00" width="1.1" height="13.60" fill="#6ba583"/><rect x="558.29" y="246.70" width="1" height="20.70" fill="#225437"/><rect x="557.34" y="254.50" width="2.9" height="4.10" fill="#225437"/><rect x="558.24" y="255.40" width="1.1" height="2.30" fill="#6ba583"/><rect x="562.09" y="250.30" width="1" height="24.30" fill="#5b1a13"/><rect x="561.14" y="254.50" width="2.9" height="3.60" fill="#5b1a13"/><rect x="562.04" y="255.40" width="1.1" height="1.80" fill="#d75442"/><rect x="565.88" y="253.90" width="1" height="19.60" fill="#5b1a13"/><rect x="564.93" y="258.60" width="2.9" height="3.60" fill="#5b1a13"/><rect x="565.83" y="259.50" width="1.1" height="1.80" fill="#d75442"/><rect x="569.67" y="252.40" width="1" height="45.40" fill="#5b1a13"/><rect x="568.72" y="263.20" width="2.9" height="21.20" fill="#5b1a13"/><rect x="569.62" y="264.10" width="1.1" height="19.40" fill="#d75442"/><rect x="573.46" y="263.20" width="1" height="37.20" fill="#5b1a13"/><rect x="572.51" y="272.50" width="2.9" height="2.60" fill="#5b1a13"/><rect x="573.41" y="273.40" width="1.1" height="0.80" fill="#d75442"/><rect x="577.26" y="258.60" width="1" height="83.30" fill="#225437"/><rect x="576.31" y="281.00" width="2.9" height="6.70" fill="#225437"/><rect x="577.21" y="281.90" width="1.1" height="4.90" fill="#6ba583"/><rect x="581.05" y="279.20" width="1" height="37.70" fill="#5b1a13"/><rect x="580.10" y="281.80" width="2.9" height="17.00" fill="#5b1a13"/><rect x="581.00" y="282.70" width="1.1" height="15.20" fill="#d75442"/><rect x="584.84" y="294.50" width="1" height="67.00" fill="#5b1a13"/><rect x="583.89" y="295.00" width="2.9" height="62.90" fill="#5b1a13"/><rect x="584.79" y="295.90" width="1.1" height="61.10" fill="#d75442"/><rect x="588.63" y="358.00" width="1" height="181.70" fill="#5b1a13"/><rect x="587.68" y="360.50" width="2.9" height="138.90" fill="#5b1a13"/><rect x="588.58" y="361.40" width="1.1" height="137.10" fill="#d75442"/><rect x="592.43" y="382.20" width="1" height="136.30" fill="#225437"/><rect x="591.48" y="469.40" width="2.9" height="16.30" fill="#225437"/><rect x="592.38" y="470.30" width="1.1" height="14.50" fill="#6ba583"/><rect x="596.22" y="428.60" width="1" height="109.50" fill="#5b1a13"/><rect x="595.27" y="466.30" width="2.9" height="52.20" fill="#5b1a13"/><rect x="596.17" y="467.20" width="1.1" height="50.40" fill="#d75442"/><rect x="600.01" y="434.80" width="1" height="114.80" fill="#225437"/><rect x="599.06" y="446.10" width="2.9" height="73.40" fill="#225437"/><rect x="599.96" y="447.00" width="1.1" height="71.60" fill="#6ba583"/><rect x="603.80" y="418.80" width="1" height="76.00" fill="#5b1a13"/><rect x="602.85" y="446.60" width="2.9" height="21.20" fill="#5b1a13"/><rect x="603.75" y="447.50" width="1.1" height="19.40" fill="#d75442"/><rect x="607.60" y="449.20" width="1" height="106.60" fill="#5b1a13"/><rect x="606.65" y="463.70" width="2.9" height="57.90" fill="#5b1a13"/><rect x="607.55" y="464.60" width="1.1" height="56.10" fill="#d75442"/><rect x="611.39" y="506.10" width="1" height="113.90" fill="#5b1a13"/><rect x="610.44" y="520.60" width="2.9" height="54.80" fill="#5b1a13"/><rect x="611.34" y="521.50" width="1.1" height="53.00" fill="#d75442"/><rect x="615.18" y="494.30" width="1" height="88.90" fill="#225437"/><rect x="614.23" y="496.30" width="2.9" height="72.40" fill="#225437"/><rect x="615.13" y="497.20" width="1.1" height="70.60" fill="#6ba583"/><rect x="618.98" y="494.30" width="1" height="64.10" fill="#5b1a13"/><rect x="618.03" y="494.80" width="2.9" height="18.00" fill="#5b1a13"/><rect x="618.93" y="495.70" width="1.1" height="16.20" fill="#d75442"/><rect x="622.77" y="479.30" width="1" height="67.60" fill="#225437"/><rect x="621.82" y="503.50" width="2.9" height="10.40" fill="#225437"/><rect x="622.72" y="504.40" width="1.1" height="8.60" fill="#6ba583"/><rect x="626.56" y="480.30" width="1" height="45.40" fill="#5b1a13"/><rect x="625.61" y="504.60" width="2.9" height="2.00" fill="#5b1a13"/><rect x="630.35" y="498.90" width="1" height="29.40" fill="#5b1a13"/><rect x="629.40" y="504.60" width="2.9" height="10.80" fill="#5b1a13"/><rect x="630.30" y="505.50" width="1.1" height="9.00" fill="#d75442"/><rect x="634.15" y="468.80" width="1" height="59.50" fill="#225437"/><rect x="633.20" y="474.60" width="2.9" height="40.80" fill="#225437"/><rect x="634.10" y="475.50" width="1.1" height="39.00" fill="#6ba583"/><rect x="637.94" y="462.60" width="1" height="43.00" fill="#5b1a13"/><rect x="636.99" y="475.20" width="2.9" height="28.90" fill="#5b1a13"/><rect x="637.89" y="476.10" width="1.1" height="27.10" fill="#d75442"/><rect x="641.73" y="503.50" width="1" height="56.50" fill="#5b1a13"/><rect x="640.78" y="503.50" width="2.9" height="28.00" fill="#5b1a13"/><rect x="641.68" y="504.40" width="1.1" height="26.20" fill="#d75442"/><rect x="645.52" y="518.00" width="1" height="53.30" fill="#5b1a13"/><rect x="644.57" y="528.80" width="2.9" height="21.80" fill="#5b1a13"/><rect x="645.47" y="529.70" width="1.1" height="20.00" fill="#d75442"/><rect x="649.32" y="510.80" width="1" height="49.70" fill="#5b1a13"/><rect x="648.37" y="550.10" width="2.9" height="1.60" fill="#5b1a13"/><rect x="653.11" y="514.00" width="1" height="50.10" fill="#225437"/><rect x="652.16" y="515.40" width="2.9" height="34.70" fill="#225437"/><rect x="653.06" y="516.30" width="1.1" height="32.90" fill="#6ba583"/><rect x="656.90" y="512.30" width="1" height="52.80" fill="#5b1a13"/><rect x="655.95" y="515.90" width="2.9" height="37.30" fill="#5b1a13"/><rect x="656.85" y="516.80" width="1.1" height="35.50" fill="#d75442"/><rect x="660.69" y="553.70" width="1" height="55.30" fill="#5b1a13"/><rect x="659.74" y="558.40" width="2.9" height="36.40" fill="#5b1a13"/><rect x="660.64" y="559.30" width="1.1" height="34.60" fill="#d75442"/><rect x="664.49" y="580.00" width="1" height="49.70" fill="#5b1a13"/><rect x="663.54" y="594.20" width="2.9" height="31.30" fill="#5b1a13"/><rect x="664.44" y="595.10" width="1.1" height="29.50" fill="#d75442"/><rect x="668.28" y="625.20" width="1" height="64.50" fill="#5b1a13"/><rect x="667.33" y="627.70" width="2.9" height="39.80" fill="#5b1a13"/><rect x="668.23" y="628.60" width="1.1" height="38.00" fill="#d75442"/><rect x="672.07" y="604.50" width="1" height="79.50" fill="#225437"/><rect x="671.12" y="607.10" width="2.9" height="59.90" fill="#225437"/><rect x="672.02" y="608.00" width="1.1" height="58.10" fill="#6ba583"/><rect x="675.86" y="568.40" width="1" height="47.10" fill="#225437"/><rect x="674.91" y="598.70" width="2.9" height="12.30" fill="#225437"/><rect x="675.81" y="599.60" width="1.1" height="10.50" fill="#6ba583"/><rect x="679.66" y="544.90" width="1" height="55.10" fill="#225437"/><rect x="678.71" y="556.30" width="2.9" height="41.80" fill="#225437"/><rect x="679.61" y="557.20" width="1.1" height="40.00" fill="#6ba583"/><rect x="683.45" y="534.10" width="1" height="56.30" fill="#225437"/><rect x="682.50" y="536.70" width="2.9" height="22.70" fill="#225437"/><rect x="683.40" y="537.60" width="1.1" height="20.90" fill="#6ba583"/><rect x="687.24" y="526.90" width="1" height="40.70" fill="#225437"/><rect x="686.29" y="527.90" width="2.9" height="10.30" fill="#225437"/><rect x="687.19" y="528.80" width="1.1" height="8.50" fill="#6ba583"/><rect x="691.03" y="513.00" width="1" height="31.40" fill="#225437"/><rect x="690.08" y="517.10" width="2.9" height="13.40" fill="#225437"/><rect x="690.98" y="518.00" width="1.1" height="11.60" fill="#6ba583"/><rect x="694.83" y="516.00" width="1" height="35.60" fill="#225437"/><rect x="693.88" y="516.50" width="2.9" height="1.40" fill="#225437"/><rect x="698.62" y="502.10" width="1" height="36.60" fill="#225437"/><rect x="697.67" y="510.40" width="2.9" height="9.40" fill="#225437"/><rect x="698.57" y="511.30" width="1.1" height="7.60" fill="#6ba583"/><rect x="702.41" y="471.70" width="1" height="39.70" fill="#225437"/><rect x="701.46" y="474.30" width="2.9" height="36.60" fill="#225437"/><rect x="702.36" y="475.20" width="1.1" height="34.80" fill="#6ba583"/><rect x="706.21" y="476.30" width="1" height="34.10" fill="#5b1a13"/><rect x="705.25" y="476.80" width="2.9" height="28.90" fill="#5b1a13"/><rect x="706.16" y="477.70" width="1.1" height="27.10" fill="#d75442"/><rect x="710.00" y="475.30" width="1" height="35.60" fill="#225437"/><rect x="709.05" y="503.20" width="2.9" height="2.50" fill="#225437"/><rect x="709.95" y="504.10" width="1.1" height="0.70" fill="#6ba583"/><rect x="713.79" y="472.70" width="1" height="37.70" fill="#225437"/><rect x="712.84" y="479.90" width="2.9" height="23.80" fill="#225437"/><rect x="713.74" y="480.80" width="1.1" height="22.00" fill="#6ba583"/><rect x="717.58" y="452.10" width="1" height="29.40" fill="#225437"/><rect x="716.63" y="463.90" width="2.9" height="15.00" fill="#225437"/><rect x="717.53" y="464.80" width="1.1" height="13.20" fill="#6ba583"/><rect x="721.38" y="453.20" width="1" height="21.70" fill="#225437"/><rect x="720.43" y="464.10" width="2.9" height="1.00" fill="#225437"/><rect x="725.17" y="465.60" width="1" height="28.40" fill="#5b1a13"/><rect x="724.22" y="465.60" width="2.9" height="17.00" fill="#5b1a13"/><rect x="725.12" y="466.50" width="1.1" height="15.20" fill="#d75442"/><rect x="728.96" y="479.00" width="1" height="25.80" fill="#5b1a13"/><rect x="728.01" y="482.60" width="2.9" height="1.10" fill="#5b1a13"/><rect x="732.75" y="472.80" width="1" height="28.40" fill="#5b1a13"/><rect x="731.80" y="483.70" width="2.9" height="14.90" fill="#5b1a13"/><rect x="732.70" y="484.60" width="1.1" height="13.10" fill="#d75442"/><rect x="736.55" y="493.70" width="1" height="24.80" fill="#5b1a13"/><rect x="735.60" y="499.40" width="2.9" height="12.40" fill="#5b1a13"/><rect x="736.50" y="500.30" width="1.1" height="10.60" fill="#d75442"/><rect x="740.34" y="464.10" width="1" height="54.40" fill="#225437"/><rect x="739.39" y="465.60" width="2.9" height="46.20" fill="#225437"/><rect x="740.29" y="466.50" width="1.1" height="44.40" fill="#6ba583"/><rect x="744.13" y="437.70" width="1" height="31.50" fill="#225437"/><rect x="743.18" y="438.30" width="2.9" height="28.30" fill="#225437"/><rect x="744.08" y="439.20" width="1.1" height="26.50" fill="#6ba583"/><rect x="747.92" y="428.10" width="1" height="20.00" fill="#225437"/><rect x="746.97" y="434.30" width="2.9" height="5.50" fill="#225437"/><rect x="747.87" y="435.20" width="1.1" height="3.70" fill="#6ba583"/><rect x="751.72" y="414.20" width="1" height="22.20" fill="#225437"/><rect x="750.77" y="419.90" width="2.9" height="16.50" fill="#225437"/><rect x="751.67" y="420.80" width="1.1" height="14.70" fill="#6ba583"/><rect x="755.51" y="414.20" width="1" height="19.60" fill="#225437"/><rect x="754.56" y="420.40" width="2.9" height="1.00" fill="#225437"/><rect x="759.30" y="407.50" width="1" height="33.30" fill="#225437"/><rect x="758.35" y="408.00" width="2.9" height="13.90" fill="#225437"/><rect x="759.25" y="408.90" width="1.1" height="12.10" fill="#6ba583"/><rect x="763.09" y="400.30" width="1" height="14.40" fill="#225437"/><rect x="762.14" y="406.50" width="2.9" height="2.00" fill="#225437"/><rect x="766.89" y="404.40" width="1" height="26.80" fill="#5b1a13"/><rect x="765.94" y="407.50" width="2.9" height="8.20" fill="#5b1a13"/><rect x="766.84" y="408.40" width="1.1" height="6.40" fill="#d75442"/><rect x="770.68" y="396.10" width="1" height="20.20" fill="#225437"/><rect x="769.73" y="401.30" width="2.9" height="15.00" fill="#225437"/><rect x="770.63" y="402.20" width="1.1" height="13.20" fill="#6ba583"/><rect x="774.47" y="379.10" width="1" height="29.40" fill="#225437"/><rect x="773.52" y="385.80" width="2.9" height="15.50" fill="#225437"/><rect x="774.42" y="386.70" width="1.1" height="13.70" fill="#6ba583"/><rect x="778.26" y="376.50" width="1" height="25.30" fill="#5b1a13"/><rect x="777.31" y="386.80" width="2.9" height="11.90" fill="#5b1a13"/><rect x="778.21" y="387.70" width="1.1" height="10.10" fill="#d75442"/><rect x="782.06" y="383.20" width="1" height="33.60" fill="#5b1a13"/><rect x="781.11" y="397.20" width="2.9" height="13.40" fill="#5b1a13"/><rect x="782.01" y="398.10" width="1.1" height="11.60" fill="#d75442"/><rect x="785.85" y="381.20" width="1" height="30.90" fill="#225437"/><rect x="784.90" y="381.70" width="2.9" height="29.90" fill="#225437"/><rect x="785.80" y="382.60" width="1.1" height="28.10" fill="#6ba583"/><rect x="789.64" y="365.20" width="1" height="19.60" fill="#225437"/><rect x="788.69" y="373.40" width="2.9" height="8.80" fill="#225437"/><rect x="789.59" y="374.30" width="1.1" height="7.00" fill="#6ba583"/><rect x="793.43" y="363.10" width="1" height="17.50" fill="#5b1a13"/><rect x="792.48" y="374.50" width="2.9" height="1.00" fill="#5b1a13"/><rect x="797.23" y="369.30" width="1" height="36.10" fill="#5b1a13"/><rect x="796.28" y="377.00" width="2.9" height="27.90" fill="#5b1a13"/><rect x="797.18" y="377.90" width="1.1" height="26.10" fill="#d75442"/><rect x="801.02" y="381.20" width="1" height="26.30" fill="#225437"/><rect x="800.07" y="382.20" width="2.9" height="22.70" fill="#225437"/><rect x="800.97" y="383.10" width="1.1" height="20.90" fill="#6ba583"/><rect x="804.81" y="360.30" width="1" height="23.70" fill="#225437"/><rect x="803.86" y="368.00" width="2.9" height="15.50" fill="#225437"/><rect x="804.76" y="368.90" width="1.1" height="13.70" fill="#6ba583"/><rect x="808.61" y="355.10" width="1" height="17.50" fill="#5b1a13"/><rect x="807.66" y="367.00" width="2.9" height="1.50" fill="#5b1a13"/><rect x="812.40" y="356.10" width="1" height="26.40" fill="#5b1a13"/><rect x="811.45" y="368.00" width="2.9" height="1.00" fill="#5b1a13"/><rect x="816.19" y="351.00" width="1" height="20.60" fill="#225437"/><rect x="815.24" y="358.20" width="2.9" height="9.80" fill="#225437"/><rect x="816.14" y="359.10" width="1.1" height="8.00" fill="#6ba583"/><rect x="819.98" y="356.10" width="1" height="15.50" fill="#5b1a13"/><rect x="819.03" y="358.20" width="2.9" height="2.60" fill="#5b1a13"/><rect x="819.93" y="359.10" width="1.1" height="0.80" fill="#d75442"/><rect x="823.78" y="355.10" width="1" height="14.40" fill="#5b1a13"/><rect x="822.83" y="361.30" width="2.9" height="3.10" fill="#5b1a13"/><rect x="823.73" y="362.20" width="1.1" height="1.30" fill="#d75442"/><rect x="827.57" y="349.40" width="1" height="16.00" fill="#225437"/><rect x="826.62" y="349.40" width="2.9" height="14.50" fill="#225437"/><rect x="827.52" y="350.30" width="1.1" height="12.70" fill="#6ba583"/><rect x="831.36" y="345.80" width="1" height="11.40" fill="#5b1a13"/><rect x="830.41" y="350.50" width="2.9" height="6.10" fill="#5b1a13"/><rect x="831.31" y="351.40" width="1.1" height="4.30" fill="#d75442"/><rect x="835.15" y="337.50" width="1" height="17.60" fill="#225437"/><rect x="834.20" y="338.10" width="2.9" height="16.50" fill="#225437"/><rect x="835.10" y="339.00" width="1.1" height="14.70" fill="#6ba583"/><rect x="838.95" y="333.90" width="1" height="12.90" fill="#5b1a13"/><rect x="838.00" y="338.10" width="2.9" height="5.60" fill="#5b1a13"/><rect x="838.90" y="339.00" width="1.1" height="3.80" fill="#d75442"/><rect x="842.74" y="335.00" width="1" height="35.60" fill="#5b1a13"/><rect x="841.79" y="344.30" width="2.9" height="23.70" fill="#5b1a13"/><rect x="842.69" y="345.20" width="1.1" height="21.90" fill="#d75442"/><rect x="846.53" y="360.30" width="1" height="23.20" fill="#5b1a13"/><rect x="845.58" y="365.90" width="2.9" height="14.50" fill="#5b1a13"/><rect x="846.48" y="366.80" width="1.1" height="12.70" fill="#d75442"/><rect x="850.32" y="361.30" width="1" height="37.70" fill="#5b1a13"/><rect x="849.37" y="380.40" width="2.9" height="6.20" fill="#5b1a13"/><rect x="850.27" y="381.30" width="1.1" height="4.40" fill="#d75442"/><rect x="854.12" y="374.70" width="1" height="16.50" fill="#225437"/><rect x="853.17" y="375.20" width="2.9" height="10.90" fill="#225437"/><rect x="854.07" y="376.10" width="1.1" height="9.10" fill="#6ba583"/><rect x="857.91" y="356.10" width="1" height="22.70" fill="#225437"/><rect x="856.96" y="358.70" width="2.9" height="17.60" fill="#225437"/><rect x="857.86" y="359.60" width="1.1" height="15.80" fill="#6ba583"/><rect x="861.70" y="355.10" width="1" height="16.50" fill="#5b1a13"/><rect x="860.75" y="358.70" width="2.9" height="1.60" fill="#5b1a13"/><rect x="865.49" y="339.60" width="1" height="20.10" fill="#225437"/><rect x="864.54" y="340.60" width="2.9" height="19.10" fill="#225437"/><rect x="865.44" y="341.50" width="1.1" height="17.30" fill="#6ba583"/><rect x="869.29" y="332.40" width="1" height="12.40" fill="#225437"/><rect x="868.34" y="335.50" width="2.9" height="6.20" fill="#225437"/><rect x="869.24" y="336.40" width="1.1" height="4.40" fill="#6ba583"/><rect x="873.08" y="324.10" width="1" height="17.60" fill="#225437"/><rect x="872.13" y="329.80" width="2.9" height="6.20" fill="#225437"/><rect x="873.03" y="330.70" width="1.1" height="4.40" fill="#6ba583"/><rect x="876.87" y="319.10" width="1" height="16.50" fill="#225437"/><rect x="875.92" y="326.30" width="2.9" height="7.20" fill="#225437"/><rect x="876.82" y="327.20" width="1.1" height="5.40" fill="#6ba583"/><rect x="880.66" y="317.00" width="1" height="10.30" fill="#225437"/><rect x="879.71" y="320.10" width="2.9" height="5.70" fill="#225437"/><rect x="880.61" y="321.00" width="1.1" height="3.90" fill="#6ba583"/><rect x="884.46" y="309.80" width="1" height="12.40" fill="#225437"/><rect x="883.51" y="310.30" width="2.9" height="7.20" fill="#225437"/><rect x="884.41" y="311.20" width="1.1" height="5.40" fill="#6ba583"/><rect x="888.25" y="300.00" width="1" height="15.50" fill="#5b1a13"/><rect x="887.30" y="309.30" width="2.9" height="2.00" fill="#5b1a13"/><rect x="892.04" y="297.90" width="1" height="19.60" fill="#225437"/><rect x="891.09" y="298.90" width="2.9" height="14.50" fill="#225437"/><rect x="891.99" y="299.80" width="1.1" height="12.70" fill="#6ba583"/><rect x="895.84" y="296.40" width="1" height="23.20" fill="#5b1a13"/><rect x="894.88" y="300.50" width="2.9" height="13.90" fill="#5b1a13"/><rect x="895.79" y="301.40" width="1.1" height="12.10" fill="#d75442"/><rect x="899.63" y="304.60" width="1" height="84.90" fill="#5b1a13"/><rect x="898.68" y="314.40" width="2.9" height="44.20" fill="#5b1a13"/><rect x="899.58" y="315.30" width="1.1" height="42.40" fill="#d75442"/><rect x="903.42" y="320.10" width="1" height="29.90" fill="#225437"/><rect x="902.47" y="341.80" width="2.9" height="7.20" fill="#225437"/><rect x="903.37" y="342.70" width="1.1" height="5.40" fill="#6ba583"/><rect x="907.21" y="335.10" width="1" height="57.50" fill="#5b1a13"/><rect x="906.26" y="342.10" width="2.9" height="29.40" fill="#5b1a13"/><rect x="907.16" y="343.00" width="1.1" height="27.60" fill="#d75442"/><rect x="911.01" y="358.60" width="1" height="43.30" fill="#225437"/><rect x="910.06" y="369.40" width="2.9" height="2.10" fill="#225437"/><rect x="914.80" y="357.50" width="1" height="29.50" fill="#5b1a13"/><rect x="913.85" y="369.40" width="2.9" height="14.00" fill="#5b1a13"/><rect x="914.75" y="370.30" width="1.1" height="12.20" fill="#d75442"/><rect x="918.59" y="369.40" width="1" height="29.40" fill="#225437"/><rect x="917.64" y="371.00" width="2.9" height="13.40" fill="#225437"/><rect x="918.54" y="371.90" width="1.1" height="11.60" fill="#6ba583"/><rect x="922.38" y="352.40" width="1" height="20.10" fill="#225437"/><rect x="921.43" y="357.00" width="2.9" height="12.90" fill="#225437"/><rect x="922.33" y="357.90" width="1.1" height="11.10" fill="#6ba583"/><rect x="926.18" y="345.20" width="1" height="39.70" fill="#5b1a13"/><rect x="925.23" y="353.40" width="2.9" height="24.30" fill="#5b1a13"/><rect x="926.13" y="354.30" width="1.1" height="22.50" fill="#d75442"/><rect x="929.97" y="375.10" width="1" height="45.90" fill="#5b1a13"/><rect x="929.02" y="377.70" width="2.9" height="37.60" fill="#5b1a13"/><rect x="929.92" y="378.60" width="1.1" height="35.80" fill="#d75442"/><rect x="933.76" y="377.70" width="1" height="45.30" fill="#225437"/><rect x="932.81" y="379.20" width="2.9" height="35.10" fill="#225437"/><rect x="933.71" y="380.10" width="1.1" height="33.30" fill="#6ba583"/><rect x="937.55" y="363.20" width="1" height="24.30" fill="#5b1a13"/><rect x="936.60" y="379.20" width="2.9" height="5.70" fill="#5b1a13"/><rect x="937.50" y="380.10" width="1.1" height="3.90" fill="#d75442"/><rect x="941.35" y="361.20" width="1" height="31.40" fill="#225437"/><rect x="940.40" y="361.70" width="2.9" height="24.20" fill="#225437"/><rect x="941.30" y="362.60" width="1.1" height="22.40" fill="#6ba583"/><rect x="945.14" y="350.80" width="1" height="22.20" fill="#5b1a13"/><rect x="944.19" y="361.20" width="2.9" height="2.50" fill="#5b1a13"/><rect x="945.09" y="362.10" width="1.1" height="0.70" fill="#d75442"/><rect x="948.93" y="346.20" width="1" height="15.50" fill="#225437"/><rect x="947.98" y="351.40" width="2.9" height="8.20" fill="#225437"/><rect x="948.88" y="352.30" width="1.1" height="6.40" fill="#6ba583"/><rect x="952.72" y="347.20" width="1" height="33.60" fill="#5b1a13"/><rect x="951.77" y="349.80" width="2.9" height="26.80" fill="#5b1a13"/><rect x="952.67" y="350.70" width="1.1" height="25.00" fill="#d75442"/><rect x="956.52" y="363.20" width="1" height="22.70" fill="#5b1a13"/><rect x="955.57" y="375.60" width="2.9" height="5.20" fill="#5b1a13"/><rect x="956.47" y="376.50" width="1.1" height="3.40" fill="#d75442"/><rect x="960.31" y="374.10" width="1" height="27.30" fill="#5b1a13"/><rect x="959.36" y="380.30" width="2.9" height="3.60" fill="#5b1a13"/><rect x="960.26" y="381.20" width="1.1" height="1.80" fill="#d75442"/><rect x="964.10" y="359.40" width="1" height="26.60" fill="#225437"/><rect x="963.15" y="360.00" width="2.9" height="24.90" fill="#225437"/><rect x="964.05" y="360.90" width="1.1" height="23.10" fill="#6ba583"/><rect x="967.89" y="355.20" width="1" height="12.80" fill="#225437"/><rect x="966.94" y="359.70" width="2.9" height="1.00" fill="#225437"/><rect x="971.69" y="342.90" width="1" height="15.10" fill="#225437"/><rect x="970.74" y="350.30" width="2.9" height="7.40" fill="#225437"/><rect x="971.64" y="351.20" width="1.1" height="5.60" fill="#6ba583"/><rect x="975.48" y="337.10" width="1" height="15.80" fill="#225437"/><rect x="974.53" y="337.10" width="2.9" height="14.80" fill="#225437"/><rect x="975.43" y="338.00" width="1.1" height="13.00" fill="#6ba583"/><rect x="979.27" y="331.30" width="1" height="16.40" fill="#5b1a13"/><rect x="978.32" y="337.10" width="2.9" height="1.30" fill="#5b1a13"/><rect x="983.06" y="325.20" width="1" height="22.50" fill="#225437"/><rect x="982.11" y="328.40" width="2.9" height="9.30" fill="#225437"/><rect x="983.01" y="329.30" width="1.1" height="7.50" fill="#6ba583"/><rect x="986.86" y="315.90" width="1" height="17.10" fill="#225437"/><rect x="985.91" y="320.10" width="2.9" height="7.20" fill="#225437"/><rect x="986.81" y="321.00" width="1.1" height="5.40" fill="#6ba583"/><rect x="990.65" y="313.40" width="1" height="18.00" fill="#225437"/><rect x="989.70" y="315.90" width="2.9" height="4.70" fill="#225437"/><rect x="990.60" y="316.80" width="1.1" height="2.90" fill="#6ba583"/><rect x="994.44" y="309.70" width="1" height="14.50" fill="#5b1a13"/><rect x="993.49" y="316.50" width="2.9" height="1.00" fill="#5b1a13"/><rect x="998.24" y="292.70" width="1" height="27.90" fill="#225437"/><rect x="997.29" y="293.20" width="2.9" height="23.80" fill="#225437"/><rect x="998.19" y="294.10" width="1.1" height="22.00" fill="#6ba583"/><rect x="1002.03" y="292.70" width="1" height="19.10" fill="#5b1a13"/><rect x="1001.08" y="293.20" width="2.9" height="15.50" fill="#5b1a13"/><rect x="1001.98" y="294.10" width="1.1" height="13.70" fill="#d75442"/><rect x="1005.82" y="303.00" width="1" height="19.60" fill="#225437"/><rect x="1004.87" y="306.10" width="2.9" height="2.60" fill="#225437"/><rect x="1005.77" y="307.00" width="1.1" height="0.80" fill="#6ba583"/><rect x="1009.61" y="303.00" width="1" height="17.60" fill="#5b1a13"/><rect x="1008.66" y="304.10" width="2.9" height="11.30" fill="#5b1a13"/><rect x="1009.56" y="305.00" width="1.1" height="9.50" fill="#d75442"/><rect x="1013.41" y="291.20" width="1" height="30.40" fill="#225437"/><rect x="1012.46" y="292.20" width="2.9" height="20.10" fill="#225437"/><rect x="1013.36" y="293.10" width="1.1" height="18.30" fill="#6ba583"/><rect x="1017.20" y="285.50" width="1" height="12.40" fill="#225437"/><rect x="1016.25" y="286.50" width="2.9" height="8.30" fill="#225437"/><rect x="1017.15" y="287.40" width="1.1" height="6.50" fill="#6ba583"/><rect x="1020.99" y="282.90" width="1" height="8.80" fill="#225437"/><rect x="1020.04" y="285.50" width="2.9" height="1.00" fill="#225437"/><rect x="1024.78" y="276.70" width="1" height="10.80" fill="#225437"/><rect x="1023.83" y="277.70" width="2.9" height="7.80" fill="#225437"/><rect x="1024.73" y="278.60" width="1.1" height="6.00" fill="#6ba583"/><rect x="1028.58" y="274.60" width="1" height="7.80" fill="#225437"/><rect x="1027.63" y="277.70" width="2.9" height="1.60" fill="#225437"/><rect x="1032.37" y="266.10" width="1" height="11.40" fill="#225437"/><rect x="1031.42" y="270.20" width="2.9" height="6.70" fill="#225437"/><rect x="1032.32" y="271.10" width="1.1" height="4.90" fill="#6ba583"/><rect x="1036.16" y="258.90" width="1" height="16.50" fill="#225437"/><rect x="1035.21" y="259.40" width="2.9" height="11.90" fill="#225437"/><rect x="1036.11" y="260.30" width="1.1" height="10.10" fill="#6ba583"/><rect x="1039.95" y="256.30" width="1" height="14.40" fill="#5b1a13"/><rect x="1039.00" y="259.90" width="2.9" height="4.60" fill="#5b1a13"/><rect x="1039.90" y="260.80" width="1.1" height="2.80" fill="#d75442"/><rect x="1043.75" y="254.20" width="1" height="15.00" fill="#5b1a13"/><rect x="1042.80" y="264.50" width="2.9" height="4.20" fill="#5b1a13"/><rect x="1043.70" y="265.40" width="1.1" height="2.40" fill="#d75442"/><rect x="1047.54" y="249.60" width="1" height="24.20" fill="#225437"/><rect x="1046.59" y="250.10" width="2.9" height="19.60" fill="#225437"/><rect x="1047.49" y="251.00" width="1.1" height="17.80" fill="#6ba583"/><rect x="1051.33" y="239.80" width="1" height="11.30" fill="#225437"/><rect x="1050.38" y="240.30" width="2.9" height="10.80" fill="#225437"/><rect x="1051.28" y="241.20" width="1.1" height="9.00" fill="#6ba583"/><rect x="1055.12" y="232.00" width="1" height="10.90" fill="#225437"/><rect x="1054.17" y="232.50" width="2.9" height="9.30" fill="#225437"/><rect x="1055.07" y="233.40" width="1.1" height="7.50" fill="#6ba583"/><rect x="1058.92" y="232.50" width="1" height="26.40" fill="#5b1a13"/><rect x="1057.97" y="233.10" width="2.9" height="11.80" fill="#5b1a13"/><rect x="1058.87" y="234.00" width="1.1" height="10.00" fill="#d75442"/><rect x="1062.71" y="236.20" width="1" height="20.60" fill="#225437"/><rect x="1061.76" y="243.40" width="2.9" height="2.10" fill="#225437"/><rect x="1066.50" y="240.80" width="1" height="24.80" fill="#5b1a13"/><rect x="1065.55" y="242.90" width="2.9" height="10.80" fill="#5b1a13"/><rect x="1066.45" y="243.80" width="1.1" height="9.00" fill="#d75442"/><rect x="1070.29" y="253.70" width="1" height="31.00" fill="#5b1a13"/><rect x="1069.34" y="253.70" width="2.9" height="13.90" fill="#5b1a13"/><rect x="1070.24" y="254.60" width="1.1" height="12.10" fill="#d75442"/><rect x="1074.09" y="247.00" width="1" height="20.60" fill="#225437"/><rect x="1073.14" y="248.50" width="2.9" height="18.60" fill="#225437"/><rect x="1074.04" y="249.40" width="1.1" height="16.80" fill="#6ba583"/><rect x="1077.88" y="237.20" width="1" height="17.50" fill="#225437"/><rect x="1076.93" y="239.80" width="2.9" height="10.80" fill="#225437"/><rect x="1077.83" y="240.70" width="1.1" height="9.00" fill="#6ba583"/><rect x="1081.67" y="236.20" width="1" height="8.70" fill="#5b1a13"/><rect x="1080.72" y="240.80" width="2.9" height="2.60" fill="#5b1a13"/><rect x="1081.62" y="241.70" width="1.1" height="0.80" fill="#d75442"/><rect x="1085.47" y="239.30" width="1" height="16.50" fill="#5b1a13"/><rect x="1084.52" y="240.80" width="2.9" height="4.10" fill="#5b1a13"/><rect x="1085.42" y="241.70" width="1.1" height="2.30" fill="#d75442"/><rect x="1089.26" y="235.10" width="1" height="24.30" fill="#225437"/><rect x="1088.31" y="239.30" width="2.9" height="6.20" fill="#225437"/><rect x="1089.21" y="240.20" width="1.1" height="4.40" fill="#6ba583"/><rect x="1093.05" y="222.20" width="1" height="19.10" fill="#225437"/><rect x="1092.10" y="223.80" width="2.9" height="16.50" fill="#225437"/><rect x="1093.00" y="224.70" width="1.1" height="14.70" fill="#6ba583"/><rect x="1096.84" y="218.10" width="1" height="24.30" fill="#5b1a13"/><rect x="1095.89" y="222.70" width="2.9" height="14.50" fill="#5b1a13"/><rect x="1096.79" y="223.60" width="1.1" height="12.70" fill="#d75442"/><rect x="1100.64" y="224.80" width="1" height="15.50" fill="#5b1a13"/><rect x="1099.69" y="235.10" width="2.9" height="2.60" fill="#5b1a13"/><rect x="1100.59" y="236.00" width="1.1" height="0.80" fill="#d75442"/><rect x="1104.43" y="231.90" width="1" height="14.90" fill="#5b1a13"/><rect x="1103.48" y="238.60" width="2.9" height="1.00" fill="#5b1a13"/><rect x="1108.22" y="237.00" width="1" height="16.00" fill="#225437"/><rect x="1107.27" y="239.10" width="2.9" height="1.50" fill="#225437"/><rect x="1112.01" y="230.80" width="1" height="26.40" fill="#5b1a13"/><rect x="1111.06" y="239.10" width="2.9" height="17.50" fill="#5b1a13"/><rect x="1111.96" y="240.00" width="1.1" height="15.70" fill="#d75442"/><rect x="1115.81" y="254.10" width="1" height="19.10" fill="#5b1a13"/><rect x="1114.86" y="254.10" width="2.9" height="18.50" fill="#5b1a13"/><rect x="1115.76" y="255.00" width="1.1" height="16.70" fill="#d75442"/><rect x="1119.60" y="260.30" width="1" height="18.50" fill="#225437"/><rect x="1118.65" y="270.60" width="2.9" height="1.00" fill="#225437"/><rect x="1123.39" y="257.20" width="1" height="19.10" fill="#5b1a13"/><rect x="1122.44" y="271.10" width="2.9" height="1.50" fill="#5b1a13"/><rect x="1127.18" y="236.00" width="1" height="40.30" fill="#225437"/><rect x="1126.23" y="237.00" width="2.9" height="34.60" fill="#225437"/><rect x="1127.13" y="237.90" width="1.1" height="32.80" fill="#6ba583"/><rect x="1130.98" y="227.20" width="1" height="14.00" fill="#225437"/><rect x="1130.03" y="233.40" width="2.9" height="4.10" fill="#225437"/><rect x="1130.93" y="234.30" width="1.1" height="2.30" fill="#6ba583"/><rect x="1134.77" y="233.90" width="1" height="22.70" fill="#5b1a13"/><rect x="1133.82" y="234.50" width="2.9" height="12.30" fill="#5b1a13"/><rect x="1134.72" y="235.40" width="1.1" height="10.50" fill="#d75442"/><rect x="1138.56" y="230.80" width="1" height="28.40" fill="#225437"/><rect x="1137.61" y="233.40" width="2.9" height="14.00" fill="#225437"/><rect x="1138.51" y="234.30" width="1.1" height="12.20" fill="#6ba583"/><rect x="1142.35" y="234.50" width="1" height="30.90" fill="#5b1a13"/><rect x="1141.40" y="239.10" width="2.9" height="20.60" fill="#5b1a13"/><rect x="1142.30" y="240.00" width="1.1" height="18.80" fill="#d75442"/><rect x="1146.15" y="248.90" width="1" height="77.90" fill="#5b1a13"/><rect x="1145.20" y="250.50" width="2.9" height="56.70" fill="#5b1a13"/><rect x="1146.10" y="251.40" width="1.1" height="54.90" fill="#d75442"/><rect x="1149.94" y="311.80" width="1" height="64.50" fill="#225437"/><rect x="1148.99" y="319.10" width="2.9" height="4.10" fill="#225437"/><rect x="1149.89" y="320.00" width="1.1" height="2.30" fill="#6ba583"/><rect x="1153.73" y="302.00" width="1" height="50.60" fill="#5b1a13"/><rect x="1152.78" y="317.50" width="2.9" height="31.50" fill="#5b1a13"/><rect x="1153.68" y="318.40" width="1.1" height="29.70" fill="#d75442"/><rect x="1157.52" y="311.80" width="1" height="44.40" fill="#225437"/><rect x="1156.57" y="319.10" width="2.9" height="30.40" fill="#225437"/><rect x="1157.47" y="320.00" width="1.1" height="28.60" fill="#6ba583"/><rect x="1161.32" y="290.20" width="1" height="33.50" fill="#5b1a13"/><rect x="1160.37" y="319.10" width="2.9" height="4.10" fill="#5b1a13"/><rect x="1161.27" y="320.00" width="1.1" height="2.30" fill="#d75442"/><rect x="1165.11" y="303.60" width="1" height="38.20" fill="#5b1a13"/><rect x="1164.16" y="325.30" width="2.9" height="7.20" fill="#5b1a13"/><rect x="1165.06" y="326.20" width="1.1" height="5.40" fill="#d75442"/><rect x="1168.90" y="298.40" width="1" height="50.60" fill="#225437"/><rect x="1167.95" y="298.90" width="2.9" height="42.90" fill="#225437"/><rect x="1168.85" y="299.80" width="1.1" height="41.10" fill="#6ba583"/><rect x="1172.69" y="297.90" width="1" height="64.00" fill="#5b1a13"/><rect x="1171.74" y="306.20" width="2.9" height="39.20" fill="#5b1a13"/><rect x="1172.64" y="307.10" width="1.1" height="37.40" fill="#d75442"/><rect x="1176.49" y="310.80" width="1" height="42.80" fill="#225437"/><rect x="1175.54" y="346.90" width="2.9" height="2.60" fill="#225437"/><rect x="1176.44" y="347.80" width="1.1" height="0.80" fill="#6ba583"/><rect x="1180.28" y="320.10" width="1" height="62.40" fill="#225437"/><rect x="1179.33" y="330.40" width="2.9" height="18.60" fill="#225437"/><rect x="1180.23" y="331.30" width="1.1" height="16.80" fill="#6ba583"/><rect x="1184.07" y="294.30" width="1" height="36.10" fill="#225437"/><rect x="1183.12" y="294.80" width="2.9" height="35.10" fill="#225437"/><rect x="1184.02" y="295.70" width="1.1" height="33.30" fill="#6ba583"/><rect x="1187.87" y="286.00" width="1" height="27.90" fill="#225437"/><rect x="1186.92" y="287.10" width="2.9" height="9.30" fill="#225437"/><rect x="1187.82" y="288.00" width="1.1" height="7.50" fill="#6ba583"/><rect x="1191.66" y="259.60" width="1" height="38.20" fill="#225437"/><rect x="1190.71" y="263.20" width="2.9" height="27.30" fill="#225437"/><rect x="1191.61" y="264.10" width="1.1" height="25.50" fill="#6ba583"/><rect x="1195.45" y="263.20" width="1" height="38.70" fill="#5b1a13"/><rect x="1194.50" y="263.70" width="2.9" height="15.00" fill="#5b1a13"/><rect x="1195.40" y="264.60" width="1.1" height="13.20" fill="#d75442"/><rect x="1199.24" y="266.80" width="1" height="29.90" fill="#225437"/><rect x="1198.29" y="273.00" width="2.9" height="5.70" fill="#225437"/><rect x="1199.19" y="273.90" width="1.1" height="3.90" fill="#6ba583"/><rect x="1203.04" y="268.40" width="1" height="34.50" fill="#5b1a13"/><rect x="1202.09" y="272.00" width="2.9" height="26.80" fill="#5b1a13"/><rect x="1202.99" y="272.90" width="1.1" height="25.00" fill="#d75442"/><rect x="1206.83" y="301.00" width="1" height="34.60" fill="#5b1a13"/><rect x="1205.88" y="301.50" width="2.9" height="30.50" fill="#5b1a13"/><rect x="1206.78" y="302.40" width="1.1" height="28.70" fill="#d75442"/><rect x="1210.62" y="273.00" width="1" height="32.00" fill="#225437"/><rect x="1209.67" y="283.30" width="2.9" height="18.20" fill="#225437"/><rect x="1210.57" y="284.20" width="1.1" height="16.40" fill="#6ba583"/><rect x="1214.41" y="267.30" width="1" height="27.40" fill="#225437"/><rect x="1213.46" y="277.60" width="2.9" height="2.60" fill="#225437"/><rect x="1214.36" y="278.50" width="1.1" height="0.80" fill="#6ba583"/><rect x="1218.21" y="276.60" width="1" height="28.40" fill="#5b1a13"/><rect x="1217.26" y="279.20" width="2.9" height="21.20" fill="#5b1a13"/><rect x="1218.16" y="280.10" width="1.1" height="19.40" fill="#d75442"/><rect x="1222.00" y="274.00" width="1" height="31.00" fill="#225437"/><rect x="1221.05" y="274.00" width="2.9" height="25.30" fill="#225437"/><rect x="1221.95" y="274.90" width="1.1" height="23.50" fill="#6ba583"/><rect x="1225.79" y="272.00" width="1" height="11.80" fill="#5b1a13"/><rect x="1224.84" y="274.00" width="2.9" height="4.70" fill="#5b1a13"/><rect x="1225.74" y="274.90" width="1.1" height="2.90" fill="#d75442"/><rect x="1229.58" y="263.20" width="1" height="11.30" fill="#5b1a13"/><rect x="1228.63" y="266.80" width="2.9" height="1.00" fill="#5b1a13"/><rect x="1233.38" y="254.90" width="1" height="15.50" fill="#225437"/><rect x="1232.43" y="259.60" width="2.9" height="7.70" fill="#225437"/><rect x="1233.33" y="260.50" width="1.1" height="5.90" fill="#6ba583"/><rect x="1237.17" y="247.70" width="1" height="16.00" fill="#225437"/><rect x="1236.22" y="248.70" width="2.9" height="12.90" fill="#225437"/><rect x="1237.12" y="249.60" width="1.1" height="11.10" fill="#6ba583"/><rect x="1240.96" y="238.90" width="1" height="15.00" fill="#225437"/><rect x="1240.01" y="248.20" width="2.9" height="2.10" fill="#225437"/><rect x="1244.75" y="233.80" width="1" height="22.70" fill="#225437"/><rect x="1243.80" y="234.30" width="2.9" height="13.40" fill="#225437"/><rect x="1244.70" y="235.20" width="1.1" height="11.60" fill="#6ba583"/><rect x="1248.55" y="228.10" width="1" height="11.40" fill="#225437"/><rect x="1247.60" y="234.80" width="2.9" height="1.60" fill="#225437"/><rect x="1252.34" y="223.70" width="1" height="13.90" fill="#225437"/><rect x="1251.39" y="224.20" width="2.9" height="7.30" fill="#225437"/><rect x="1252.29" y="225.10" width="1.1" height="5.50" fill="#6ba583"/><rect x="1256.13" y="220.10" width="1" height="9.80" fill="#5b1a13"/><rect x="1255.18" y="221.60" width="2.9" height="1.10" fill="#5b1a13"/><rect x="1259.92" y="216.00" width="1" height="12.40" fill="#225437"/><rect x="1258.97" y="220.60" width="2.9" height="2.10" fill="#225437"/><rect x="1263.72" y="220.10" width="1" height="15.50" fill="#5b1a13"/><rect x="1262.77" y="221.10" width="2.9" height="1.00" fill="#5b1a13"/><rect x="1267.51" y="205.60" width="1" height="19.10" fill="#225437"/><rect x="1266.56" y="206.20" width="2.9" height="16.50" fill="#225437"/><rect x="1267.46" y="207.10" width="1.1" height="14.70" fill="#6ba583"/><rect x="1271.30" y="202.00" width="1" height="12.90" fill="#5b1a13"/><rect x="1270.35" y="207.20" width="2.9" height="1.50" fill="#5b1a13"/><rect x="1275.10" y="196.40" width="1" height="16.00" fill="#225437"/><rect x="1274.14" y="204.10" width="2.9" height="4.10" fill="#225437"/><rect x="1275.05" y="205.00" width="1.1" height="2.30" fill="#6ba583"/><rect x="1278.89" y="197.40" width="1" height="22.20" fill="#5b1a13"/><rect x="1277.94" y="202.00" width="2.9" height="8.30" fill="#5b1a13"/><rect x="1278.84" y="202.90" width="1.1" height="6.50" fill="#d75442"/><rect x="1282.68" y="211.30" width="1" height="17.60" fill="#5b1a13"/><rect x="1281.73" y="217.50" width="2.9" height="4.70" fill="#5b1a13"/><rect x="1282.63" y="218.40" width="1.1" height="2.90" fill="#d75442"/><rect x="1286.47" y="210.30" width="1" height="14.40" fill="#225437"/><rect x="1285.52" y="217.50" width="2.9" height="4.70" fill="#225437"/><rect x="1286.42" y="218.40" width="1.1" height="2.90" fill="#6ba583"/><rect x="1290.27" y="204.60" width="1" height="22.70" fill="#225437"/><rect x="1289.32" y="205.60" width="2.9" height="13.50" fill="#225437"/><rect x="1290.22" y="206.50" width="1.1" height="11.70" fill="#6ba583"/><rect x="1294.06" y="200.50" width="1" height="23.20" fill="#5b1a13"/><rect x="1293.11" y="205.60" width="2.9" height="18.10" fill="#5b1a13"/><rect x="1294.01" y="206.50" width="1.1" height="16.30" fill="#d75442"/><rect x="1297.85" y="220.10" width="1" height="14.40" fill="#5b1a13"/><rect x="1296.90" y="227.30" width="2.9" height="2.10" fill="#5b1a13"/><rect x="1301.64" y="229.40" width="1" height="29.90" fill="#5b1a13"/><rect x="1300.69" y="232.00" width="2.9" height="26.80" fill="#5b1a13"/><rect x="1301.59" y="232.90" width="1.1" height="25.00" fill="#d75442"/><rect x="1305.44" y="239.20" width="1" height="21.20" fill="#225437"/><rect x="1304.49" y="246.40" width="2.9" height="11.90" fill="#225437"/><rect x="1305.39" y="247.30" width="1.1" height="10.10" fill="#6ba583"/><rect x="1309.23" y="237.30" width="1" height="31.00" fill="#5b1a13"/><rect x="1308.28" y="243.50" width="2.9" height="24.30" fill="#5b1a13"/><rect x="1309.18" y="244.40" width="1.1" height="22.50" fill="#d75442"/><rect x="1313.02" y="239.40" width="1" height="34.10" fill="#225437"/><rect x="1312.07" y="243.00" width="2.9" height="24.30" fill="#225437"/><rect x="1312.97" y="243.90" width="1.1" height="22.50" fill="#6ba583"/><rect x="1316.81" y="233.50" width="1" height="22.20" fill="#225437"/><rect x="1315.86" y="235.10" width="2.9" height="1.00" fill="#225437"/><rect x="1320.61" y="226.30" width="1" height="19.10" fill="#5b1a13"/><rect x="1319.66" y="232.50" width="2.9" height="8.20" fill="#5b1a13"/><rect x="1320.56" y="233.40" width="1.1" height="6.40" fill="#d75442"/><rect x="1324.40" y="224.40" width="1" height="28.40" fill="#225437"/><rect x="1323.45" y="226.00" width="2.9" height="16.00" fill="#225437"/><rect x="1324.35" y="226.90" width="1.1" height="14.20" fill="#6ba583"/><rect x="1328.19" y="217.20" width="1" height="16.50" fill="#5b1a13"/><rect x="1327.24" y="225.50" width="2.9" height="3.00" fill="#5b1a13"/><rect x="1328.14" y="226.40" width="1.1" height="1.20" fill="#d75442"/><rect x="1331.98" y="226.00" width="1" height="18.50" fill="#225437"/><rect x="1331.03" y="228.00" width="2.9" height="2.10" fill="#225437"/><rect x="1335.78" y="217.20" width="1" height="17.50" fill="#225437"/><rect x="1334.83" y="225.50" width="2.9" height="3.50" fill="#225437"/><rect x="1335.73" y="226.40" width="1.1" height="1.70" fill="#6ba583"/><rect x="1339.57" y="213.10" width="1" height="30.40" fill="#225437"/><rect x="1338.62" y="213.60" width="2.9" height="12.90" fill="#225437"/><rect x="1339.52" y="214.50" width="1.1" height="11.10" fill="#6ba583"/><rect x="1343.36" y="210.00" width="1" height="20.60" fill="#225437"/><rect x="1342.41" y="210.50" width="2.9" height="5.10" fill="#225437"/><rect x="1343.31" y="211.40" width="1.1" height="3.30" fill="#6ba583"/><rect x="1347.15" y="203.80" width="1" height="8.70" fill="#225437"/><rect x="1346.20" y="204.80" width="2.9" height="6.20" fill="#225437"/><rect x="1347.10" y="205.70" width="1.1" height="4.40" fill="#6ba583"/><rect x="1350.95" y="197.60" width="1" height="10.80" fill="#225437"/><rect x="1350.00" y="198.10" width="2.9" height="7.70" fill="#225437"/><rect x="1350.90" y="199.00" width="1.1" height="5.90" fill="#6ba583"/><rect x="1354.74" y="195.00" width="1" height="13.40" fill="#5b1a13"/><rect x="1353.79" y="198.60" width="2.9" height="2.60" fill="#5b1a13"/><rect x="1354.69" y="199.50" width="1.1" height="0.80" fill="#d75442"/><rect x="1358.53" y="198.10" width="1" height="10.30" fill="#5b1a13"/><rect x="1357.58" y="201.20" width="2.9" height="3.10" fill="#5b1a13"/><rect x="1358.48" y="202.10" width="1.1" height="1.30" fill="#d75442"/><rect x="1362.32" y="187.40" width="1" height="21.10" fill="#225437"/><rect x="1361.37" y="187.90" width="2.9" height="15.50" fill="#225437"/><rect x="1362.27" y="188.80" width="1.1" height="13.70" fill="#6ba583"/><rect x="1366.12" y="175.50" width="1" height="20.60" fill="#225437"/><rect x="1365.17" y="178.60" width="2.9" height="9.80" fill="#225437"/><rect x="1366.07" y="179.50" width="1.1" height="8.00" fill="#6ba583"/><rect x="1369.91" y="177.50" width="1" height="8.80" fill="#5b1a13"/><rect x="1368.96" y="178.60" width="2.9" height="4.10" fill="#5b1a13"/><rect x="1369.86" y="179.50" width="1.1" height="2.30" fill="#d75442"/><rect x="1373.70" y="179.10" width="1" height="16.50" fill="#5b1a13"/><rect x="1372.75" y="183.20" width="2.9" height="7.30" fill="#5b1a13"/><rect x="1373.65" y="184.10" width="1.1" height="5.50" fill="#d75442"/><rect x="1377.50" y="176.00" width="1" height="17.50" fill="#225437"/><rect x="1376.55" y="180.10" width="2.9" height="10.40" fill="#225437"/><rect x="1377.45" y="181.00" width="1.1" height="8.60" fill="#6ba583"/><rect x="1381.29" y="179.10" width="1" height="18.10" fill="#5b1a13"/><rect x="1380.34" y="179.10" width="2.9" height="17.50" fill="#5b1a13"/><rect x="1381.24" y="180.00" width="1.1" height="15.70" fill="#d75442"/><rect x="1385.08" y="178.60" width="1" height="20.10" fill="#225437"/><rect x="1384.13" y="195.10" width="2.9" height="1.00" fill="#225437"/><rect x="1388.87" y="190.50" width="1" height="18.00" fill="#5b1a13"/><rect x="1387.92" y="195.10" width="2.9" height="7.20" fill="#5b1a13"/><rect x="1388.82" y="196.00" width="1.1" height="5.40" fill="#d75442"/><rect x="1392.67" y="191.00" width="1" height="18.50" fill="#5b1a13"/><rect x="1391.72" y="202.80" width="2.9" height="1.10" fill="#5b1a13"/><rect x="1396.46" y="191.00" width="1" height="32.00" fill="#5b1a13"/><rect x="1395.51" y="204.90" width="2.9" height="12.40" fill="#5b1a13"/><rect x="1396.41" y="205.80" width="1.1" height="10.60" fill="#d75442"/><rect x="1400.25" y="212.10" width="1" height="22.70" fill="#5b1a13"/><rect x="1399.30" y="217.30" width="2.9" height="7.20" fill="#5b1a13"/><rect x="1400.20" y="218.20" width="1.1" height="5.40" fill="#d75442"/><rect x="1404.04" y="202.30" width="1" height="22.70" fill="#225437"/><rect x="1403.09" y="202.30" width="2.9" height="22.20" fill="#225437"/><rect x="1403.99" y="203.20" width="1.1" height="20.40" fill="#6ba583"/><rect x="1407.84" y="196.60" width="1" height="17.60" fill="#225437"/><rect x="1406.89" y="199.20" width="2.9" height="5.20" fill="#225437"/><rect x="1407.79" y="200.10" width="1.1" height="3.40" fill="#6ba583"/><rect x="1411.63" y="195.10" width="1" height="12.90" fill="#225437"/><rect x="1410.68" y="198.20" width="2.9" height="1.50" fill="#225437"/><rect x="1415.42" y="187.40" width="1" height="16.00" fill="#5b1a13"/><rect x="1414.47" y="198.20" width="2.9" height="3.10" fill="#5b1a13"/><rect x="1415.37" y="199.10" width="1.1" height="1.30" fill="#d75442"/><rect x="1419.21" y="184.80" width="1" height="25.80" fill="#225437"/><rect x="1418.26" y="194.10" width="2.9" height="4.60" fill="#225437"/><rect x="1419.16" y="195.00" width="1.1" height="2.80" fill="#6ba583"/><rect x="1423.01" y="194.60" width="1" height="19.10" fill="#5b1a13"/><rect x="1422.06" y="194.60" width="2.9" height="19.10" fill="#5b1a13"/><rect x="1422.96" y="195.50" width="1.1" height="17.30" fill="#d75442"/><rect x="1426.80" y="177.00" width="1" height="37.20" fill="#225437"/><rect x="1425.85" y="179.10" width="2.9" height="32.50" fill="#225437"/><rect x="1426.75" y="180.00" width="1.1" height="30.70" fill="#6ba583"/><rect x="1430.59" y="173.20" width="1" height="12.30" fill="#225437"/><rect x="1429.64" y="174.70" width="2.9" height="4.10" fill="#225437"/><rect x="1430.54" y="175.60" width="1.1" height="2.30" fill="#6ba583"/><rect x="1434.38" y="169.50" width="1" height="11.40" fill="#225437"/><rect x="1433.43" y="170.10" width="2.9" height="6.70" fill="#225437"/><rect x="1434.33" y="171.00" width="1.1" height="4.90" fill="#6ba583"/><rect x="1438.18" y="161.30" width="1" height="10.30" fill="#225437"/><rect x="1437.23" y="161.80" width="2.9" height="9.30" fill="#225437"/><rect x="1438.13" y="162.70" width="1.1" height="7.50" fill="#6ba583"/><rect x="1441.97" y="156.10" width="1" height="9.30" fill="#225437"/><rect x="1441.02" y="158.20" width="2.9" height="4.10" fill="#225437"/><rect x="1441.92" y="159.10" width="1.1" height="2.30" fill="#6ba583"/><rect x="1445.76" y="154.10" width="1" height="11.30" fill="#225437"/><rect x="1444.81" y="155.10" width="2.9" height="3.10" fill="#225437"/><rect x="1445.71" y="156.00" width="1.1" height="1.30" fill="#6ba583"/><rect x="1449.55" y="151.50" width="1" height="6.20" fill="#225437"/><rect x="1448.60" y="153.00" width="2.9" height="2.60" fill="#225437"/><rect x="1449.50" y="153.90" width="1.1" height="0.80" fill="#6ba583"/><rect x="1453.35" y="147.90" width="1" height="16.00" fill="#5b1a13"/><rect x="1452.40" y="154.10" width="2.9" height="1.00" fill="#5b1a13"/><rect x="1457.14" y="150.50" width="1" height="19.00" fill="#225437"/><rect x="1456.19" y="153.50" width="2.9" height="1.10" fill="#225437"/><rect x="1460.93" y="140.60" width="1" height="18.10" fill="#225437"/><rect x="1459.98" y="141.70" width="2.9" height="12.40" fill="#225437"/><rect x="1460.88" y="142.60" width="1.1" height="10.60" fill="#6ba583"/><rect x="1464.73" y="136.00" width="1" height="7.70" fill="#225437"/><rect x="1463.78" y="138.10" width="2.9" height="5.10" fill="#225437"/><rect x="1464.68" y="139.00" width="1.1" height="3.30" fill="#6ba583"/><rect x="1468.52" y="137.00" width="1" height="11.40" fill="#225437"/><rect x="1467.57" y="139.10" width="2.9" height="3.10" fill="#225437"/><rect x="1468.47" y="140.00" width="1.1" height="1.30" fill="#6ba583"/><rect x="1472.31" y="134.50" width="1" height="10.30" fill="#225437"/><rect x="1471.36" y="136.00" width="2.9" height="3.50" fill="#225437"/><rect x="1472.26" y="136.90" width="1.1" height="1.70" fill="#6ba583"/><rect x="1476.10" y="131.90" width="1" height="16.00" fill="#5b1a13"/><rect x="1475.15" y="133.40" width="2.9" height="6.70" fill="#5b1a13"/><rect x="1476.05" y="134.30" width="1.1" height="4.90" fill="#d75442"/><rect x="1479.90" y="122.10" width="1" height="19.60" fill="#225437"/><rect x="1478.95" y="126.20" width="2.9" height="14.40" fill="#225437"/><rect x="1479.85" y="127.10" width="1.1" height="12.60" fill="#6ba583"/><rect x="1483.69" y="125.70" width="1" height="22.70" fill="#5b1a13"/><rect x="1482.74" y="126.20" width="2.9" height="15.50" fill="#5b1a13"/><rect x="1483.64" y="127.10" width="1.1" height="13.70" fill="#d75442"/><rect x="1487.48" y="123.60" width="1" height="18.60" fill="#225437"/><rect x="1486.53" y="127.70" width="2.9" height="13.50" fill="#225437"/><rect x="1487.43" y="128.60" width="1.1" height="11.70" fill="#6ba583"/><rect x="1491.27" y="114.50" width="1" height="16.00" fill="#225437"/><rect x="1490.32" y="115.10" width="2.9" height="14.40" fill="#225437"/><rect x="1491.22" y="116.00" width="1.1" height="12.60" fill="#6ba583"/><rect x="1495.07" y="105.80" width="1" height="10.80" fill="#225437"/><rect x="1494.12" y="106.80" width="2.9" height="7.20" fill="#225437"/><rect x="1495.02" y="107.70" width="1.1" height="5.40" fill="#6ba583"/><rect x="1498.86" y="92.90" width="1" height="17.50" fill="#225437"/><rect x="1497.91" y="93.90" width="2.9" height="15.50" fill="#225437"/><rect x="1498.81" y="94.80" width="1.1" height="13.70" fill="#6ba583"/><rect x="1502.65" y="85.10" width="1" height="21.20" fill="#5b1a13"/><rect x="1501.70" y="94.40" width="2.9" height="4.10" fill="#5b1a13"/><rect x="1502.60" y="95.30" width="1.1" height="2.30" fill="#d75442"/><rect x="1506.44" y="90.30" width="1" height="18.10" fill="#5b1a13"/><rect x="1505.49" y="99.60" width="2.9" height="8.20" fill="#5b1a13"/><rect x="1506.39" y="100.50" width="1.1" height="6.40" fill="#d75442"/><rect x="1510.24" y="100.60" width="1" height="20.10" fill="#225437"/><rect x="1509.29" y="104.20" width="2.9" height="3.10" fill="#225437"/><rect x="1510.19" y="105.10" width="1.1" height="1.30" fill="#6ba583"/><rect x="1514.03" y="99.10" width="1" height="21.60" fill="#5b1a13"/><rect x="1513.08" y="104.20" width="2.9" height="7.30" fill="#5b1a13"/><rect x="1513.98" y="105.10" width="1.1" height="5.50" fill="#d75442"/><rect x="1517.82" y="99.60" width="1" height="32.00" fill="#5b1a13"/><rect x="1516.87" y="111.50" width="2.9" height="13.90" fill="#5b1a13"/><rect x="1517.77" y="112.40" width="1.1" height="12.10" fill="#d75442"/><rect x="1521.61" y="113.00" width="1" height="25.80" fill="#225437"/><rect x="1520.66" y="119.20" width="2.9" height="6.20" fill="#225437"/><rect x="1521.56" y="120.10" width="1.1" height="4.40" fill="#6ba583"/><rect x="1525.41" y="106.80" width="1" height="15.50" fill="#225437"/><rect x="1524.46" y="107.80" width="2.9" height="11.40" fill="#225437"/><rect x="1525.36" y="108.70" width="1.1" height="9.60" fill="#6ba583"/><rect x="1529.20" y="89.80" width="1" height="18.60" fill="#225437"/><rect x="1528.25" y="90.80" width="2.9" height="17.00" fill="#225437"/><rect x="1529.15" y="91.70" width="1.1" height="15.20" fill="#6ba583"/><rect x="1532.99" y="83.10" width="1" height="10.30" fill="#225437"/><rect x="1532.04" y="83.10" width="2.9" height="9.30" fill="#225437"/><rect x="1532.94" y="84.00" width="1.1" height="7.50" fill="#6ba583"/><rect x="1536.78" y="81.00" width="1" height="10.80" fill="#5b1a13"/><rect x="1535.83" y="83.10" width="2.9" height="2.00" fill="#5b1a13"/><rect x="1540.58" y="77.40" width="1" height="11.90" fill="#225437"/><rect x="1539.63" y="77.90" width="2.9" height="7.20" fill="#225437"/><rect x="1540.53" y="78.80" width="1.1" height="5.40" fill="#6ba583"/><rect x="1544.37" y="77.40" width="1" height="9.80" fill="#5b1a13"/><rect x="1543.42" y="78.40" width="2.9" height="6.70" fill="#5b1a13"/><rect x="1544.32" y="79.30" width="1.1" height="4.90" fill="#d75442"/><rect x="1548.16" y="81.50" width="1" height="18.10" fill="#5b1a13"/><rect x="1547.21" y="85.10" width="2.9" height="13.40" fill="#5b1a13"/><rect x="1548.11" y="86.00" width="1.1" height="11.60" fill="#d75442"/><rect x="1551.95" y="94.00" width="1" height="12.30" fill="#225437"/><rect x="1551.00" y="95.00" width="2.9" height="11.30" fill="#225437"/><rect x="1551.90" y="95.90" width="1.1" height="9.50" fill="#6ba583"/>
<g fill="#ff0000">
<rect x="399.4" y="124.5" width="5.2" height="5" rx="0.5"/><rect x="409.4" y="124.5" width="5.2" height="5" rx="0.5"/><rect x="419.4" y="124.5" width="5.2" height="5" rx="0.5"/><rect x="429.4" y="124.5" width="5.2" height="5" rx="0.5"/><rect x="439.4" y="124.5" width="5.2" height="5" rx="0.5"/><rect x="449.4" y="124.5" width="5.2" height="5" rx="0.5"/><rect x="459.4" y="124.5" width="5.2" height="5" rx="0.5"/><rect x="469.4" y="124.5" width="5.2" height="5" rx="0.5"/><rect x="479.4" y="124.5" width="5.2" height="5" rx="0.5"/><rect x="489.4" y="124.5" width="5.2" height="5" rx="0.5"/><rect x="499.4" y="124.5" width="5.2" height="5" rx="0.5"/><rect x="509.4" y="124.5" width="5.2" height="5" rx="0.5"/><rect x="519.4" y="124.5" width="5.2" height="5" rx="0.5"/><rect x="529.4" y="124.5" width="5.2" height="5" rx="0.5"/><rect x="539.4" y="124.5" width="5.2" height="5" rx="0.5"/><rect x="549.4" y="124.5" width="5.2" height="5" rx="0.5"/><rect x="559.4" y="124.5" width="5.2" height="5" rx="0.5"/><rect x="569.4" y="124.5" width="5.2" height="5" rx="0.5"/><rect x="579.4" y="124.5" width="5.2" height="5" rx="0.5"/><rect x="589.4" y="124.5" width="5.2" height="5" rx="0.5"/><rect x="599.4" y="124.5" width="5.2" height="5" rx="0.5"/><rect x="609.4" y="124.5" width="5.2" height="5" rx="0.5"/><rect x="619.4" y="124.5" width="5.2" height="5" rx="0.5"/><rect x="629.4" y="124.5" width="5.2" height="5" rx="0.5"/><rect x="639.4" y="124.5" width="5.2" height="5" rx="0.5"/><rect x="649.4" y="124.5" width="5.2" height="5" rx="0.5"/><rect x="659.4" y="124.5" width="5.2" height="5" rx="0.5"/><rect x="669.4" y="124.5" width="5.2" height="5" rx="0.5"/><rect x="679.4" y="124.5" width="5.2" height="5" rx="0.5"/><rect x="689.4" y="124.5" width="5.2" height="5" rx="0.5"/><rect x="699.4" y="124.5" width="5.2" height="5" rx="0.5"/><rect x="709.4" y="124.5" width="5.2" height="5" rx="0.5"/><rect x="719.4" y="124.5" width="5.2" height="5" rx="0.5"/><rect x="729.4" y="124.5" width="5.2" height="5" rx="0.5"/><rect x="739.4" y="124.5" width="5.2" height="5" rx="0.5"/><rect x="749.4" y="124.5" width="5.2" height="5" rx="0.5"/><rect x="759.4" y="124.5" width="5.2" height="5" rx="0.5"/><rect x="769.4" y="124.5" width="5.2" height="5" rx="0.5"/><rect x="779.4" y="124.5" width="5.2" height="5" rx="0.5"/><rect x="789.4" y="124.5" width="5.2" height="5" rx="0.5"/><rect x="799.4" y="124.5" width="5.2" height="5" rx="0.5"/><rect x="809.4" y="124.5" width="5.2" height="5" rx="0.5"/><rect x="819.4" y="124.5" width="5.2" height="5" rx="0.5"/><rect x="829.4" y="124.5" width="5.2" height="5" rx="0.5"/><rect x="839.4" y="124.5" width="5.2" height="5" rx="0.5"/><rect x="849.4" y="124.5" width="5.2" height="5" rx="0.5"/><rect x="859.4" y="124.5" width="5.2" height="5" rx="0.5"/><rect x="869.4" y="124.5" width="5.2" height="5" rx="0.5"/><rect x="879.4" y="124.5" width="5.2" height="5" rx="0.5"/><rect x="889.4" y="124.5" width="5.2" height="5" rx="0.5"/><rect x="899.4" y="124.5" width="5.2" height="5" rx="0.5"/><rect x="909.4" y="124.5" width="5.2" height="5" rx="0.5"/><rect x="919.4" y="124.5" width="5.2" height="5" rx="0.5"/><rect x="929.4" y="124.5" width="5.2" height="5" rx="0.5"/><rect x="939.4" y="124.5" width="5.2" height="5" rx="0.5"/><rect x="949.4" y="124.5" width="5.2" height="5" rx="0.5"/><rect x="959.4" y="124.5" width="5.2" height="5" rx="0.5"/><rect x="969.4" y="124.5" width="5.2" height="5" rx="0.5"/><rect x="979.4" y="124.5" width="5.2" height="5" rx="0.5"/><rect x="989.4" y="124.5" width="5.2" height="5" rx="0.5"/><rect x="999.4" y="124.5" width="5.2" height="5" rx="0.5"/><rect x="1009.4" y="124.5" width="5.2" height="5" rx="0.5"/><rect x="1019.4" y="124.5" width="5.2" height="5" rx="0.5"/><rect x="1029.4" y="124.5" width="5.2" height="5" rx="0.5"/><rect x="1039.4" y="124.5" width="5.2" height="5" rx="0.5"/><rect x="1049.4" y="124.5" width="5.2" height="5" rx="0.5"/><rect x="1059.4" y="124.5" width="5.2" height="5" rx="0.5"/><rect x="1069.4" y="124.5" width="5.2" height="5" rx="0.5"/><rect x="1079.4" y="124.5" width="5.2" height="5" rx="0.5"/><rect x="1089.4" y="124.5" width="5.2" height="5" rx="0.5"/><rect x="1099.4" y="124.5" width="5.2" height="5" rx="0.5"/><rect x="1109.4" y="124.5" width="5.2" height="5" rx="0.5"/><rect x="1119.4" y="124.5" width="5.2" height="5" rx="0.5"/><rect x="1129.4" y="124.5" width="5.2" height="5" rx="0.5"/><rect x="1139.4" y="124.5" width="5.2" height="5" rx="0.5"/><rect x="1149.4" y="124.5" width="5.2" height="5" rx="0.5"/><rect x="1159.4" y="124.5" width="5.2" height="5" rx="0.5"/><rect x="1169.4" y="124.5" width="5.2" height="5" rx="0.5"/><rect x="1179.4" y="124.5" width="5.2" height="5" rx="0.5"/><rect x="1189.4" y="124.5" width="5.2" height="5" rx="0.5"/><rect x="1199.4" y="124.5" width="5.2" height="5" rx="0.5"/><rect x="1209.4" y="124.5" width="5.2" height="5" rx="0.5"/><rect x="1219.4" y="124.5" width="5.2" height="5" rx="0.5"/><rect x="1229.4" y="124.5" width="5.2" height="5" rx="0.5"/><rect x="1239.4" y="124.5" width="5.2" height="5" rx="0.5"/><rect x="1249.4" y="124.5" width="5.2" height="5" rx="0.5"/><rect x="1259.4" y="124.5" width="5.2" height="5" rx="0.5"/><rect x="1269.4" y="124.5" width="5.2" height="5" rx="0.5"/><rect x="1279.4" y="124.5" width="5.2" height="5" rx="0.5"/><rect x="1289.4" y="124.5" width="5.2" height="5" rx="0.5"/><rect x="1299.4" y="124.5" width="5.2" height="5" rx="0.5"/><rect x="1309.4" y="124.5" width="5.2" height="5" rx="0.5"/><rect x="1319.4" y="124.5" width="5.2" height="5" rx="0.5"/><rect x="1329.4" y="124.5" width="5.2" height="5" rx="0.5"/><rect x="1339.4" y="124.5" width="5.2" height="5" rx="0.5"/><rect x="1349.4" y="124.5" width="5.2" height="5" rx="0.5"/><rect x="1359.4" y="124.5" width="5.2" height="5" rx="0.5"/><rect x="1369.4" y="124.5" width="5.2" height="5" rx="0.5"/><rect x="1379.4" y="124.5" width="5.2" height="5" rx="0.5"/><rect x="1389.4" y="124.5" width="5.2" height="5" rx="0.5"/><rect x="1399.4" y="124.5" width="5.2" height="5" rx="0.5"/><rect x="1409.4" y="124.5" width="5.2" height="5" rx="0.5"/><rect x="1419.4" y="124.5" width="5.2" height="5" rx="0.5"/><rect x="1429.4" y="124.5" width="5.2" height="5" rx="0.5"/><rect x="1439.4" y="124.5" width="5.2" height="5" rx="0.5"/>
<polygon points="1446,119.6 1460.2,126.9 1446,134.3"/>
</g>
<circle cx="1486.4" cy="127.4" r="16.8" fill="none" stroke="#ff0000" stroke-width="5"/>
<text x="756" y="108" font-family="Liberation Sans" font-size="32" textLength="223" lengthAdjust="spacingAndGlyphs" fill="#f41414">5 лет 6 месяцев</text>
</svg>
<div class="legend">S&amp;P 500 E-mini Futures · 1W · CME_MINI</div>
<div style="position:absolute;left:277px;top:9px;width:16px;height:16px;border-radius:50%;background:#fde9d3;color:#f57c00;font-size:11px;font-weight:bold;line-height:16px;text-align:center">D</div>
<div class="ohlc"><b>O</b>4608.00 <b>H</b>4619.50 <b>L</b>4586.50 <b>C</b>4605.50 +8.50 (+0.18%)</div>
<div class="box" style="left:10px;width:53px;border:1px solid #f23645;color:#f23645">4605.25</div>
<div style="position:absolute;left:72px;top:32px;height:20px;line-height:20px;font-size:10px;color:#50535e">0.25</div>
<div class="box" style="left:99px;width:54px;border:1px solid #2962ff;color:#2962ff">4605.50</div>
<div class="pl" style="top:0.5px">1900.00</div><div class="pl" style="top:35.6px">1800.00</div><div class="pl" style="top:72.7px">1700.00</div><div class="pl" style="top:104.0px">1620.00</div><div class="pl" style="top:136.9px">1540.00</div><div class="pl" style="top:171.5px">1460.00</div><div class="pl" style="top:208.1px">1380.00</div><div class="pl" style="top:246.9px">1300.00</div><div class="pl" style="top:288.1px">1220.00</div><div class="pl" style="top:315.3px">1170.00</div><div class="pl" style="top:343.6px">1120.00</div><div class="pl" style="top:379.4px">1060.00</div><div class="pl" style="top:417.2px">1000.00</div><div class="pl" style="top:457.3px">940.00</div><div class="pl" style="top:485.6px">900.00</div><div class="pl" style="top:515.1px">860.00</div><div class="pl" style="top:546.0px">820.00</div><div class="pl" style="top:578.5px">780.00</div><div class="pl" style="top:612.6px">740.00</div><div class="pl" style="top:644.1px">705.00</div><div class="pl" style="top:674.2px">673.00</div><div class="pl" style="top:701.3px">645.50</div><div class="pl" style="top:730.1px">617.50</div>
<div class="tl yr" style="left:12.7px">2006</div><div class="tl" style="left:96.4px">Jun</div><div class="tl yr" style="left:210.5px">2007</div><div class="tl" style="left:293.7px">Jun</div><div class="tl yr" style="left:411.1px">2008</div><div class="tl" style="left:490.9px">Jun</div><div class="tl yr" style="left:608.7px">2009</div><div class="tl" style="left:688.5px">Jun</div><div class="tl yr" style="left:806.0px">2010</div><div class="tl" style="left:889.2px">Jun</div><div class="tl yr" style="left:1003.2px">2011</div><div class="tl" style="left:1085.8px">Jun</div><div class="tl yr" style="left:1200.5px">2012</div><div class="tl" style="left:1283.4px">Jun</div><div class="tl yr" style="left:1400.8px">2013</div><div class="tl" style="left:1480.6px">Jun</div>
<div style="position:absolute;left:1513px;top:695px;width:25px;height:25px;border-radius:50%;background:#fff;box-shadow:0 1px 3px rgba(0,0,0,0.25)"></div>
<svg style="position:absolute;left:1513px;top:695px" width="25" height="25" viewBox="0 0 25 25"><path d="M8.6 9.6 L10.6 12.5 L8.6 15.4 M12.3 7.2 L16.9 12.4 L12.3 17.6" fill="none" stroke="#50535e" stroke-width="1.9" stroke-linecap="round" stroke-linejoin="round"/></svg>
<svg style="position:absolute;left:1574px;top:754px" width="15" height="15" viewBox="0 0 15 15"><circle cx="7.5" cy="7.5" r="4.4" fill="none" stroke="#131722" stroke-width="1.2"/><g stroke="#131722" stroke-width="1.1" stroke-linecap="round"><line x1="12.50" y1="7.50" x2="14.10" y2="7.50"/><line x1="11.04" y1="11.04" x2="12.17" y2="12.17"/><line x1="7.50" y1="12.50" x2="7.50" y2="14.10"/><line x1="3.96" y1="11.04" x2="2.83" y2="12.17"/><line x1="2.50" y1="7.50" x2="0.90" y2="7.50"/><line x1="3.96" y1="3.96" x2="2.83" y2="2.83"/><line x1="7.50" y1="2.50" x2="7.50" y2="0.90"/><line x1="11.04" y1="3.96" x2="12.17" y2="2.83"/></g></svg>
</body></html>
